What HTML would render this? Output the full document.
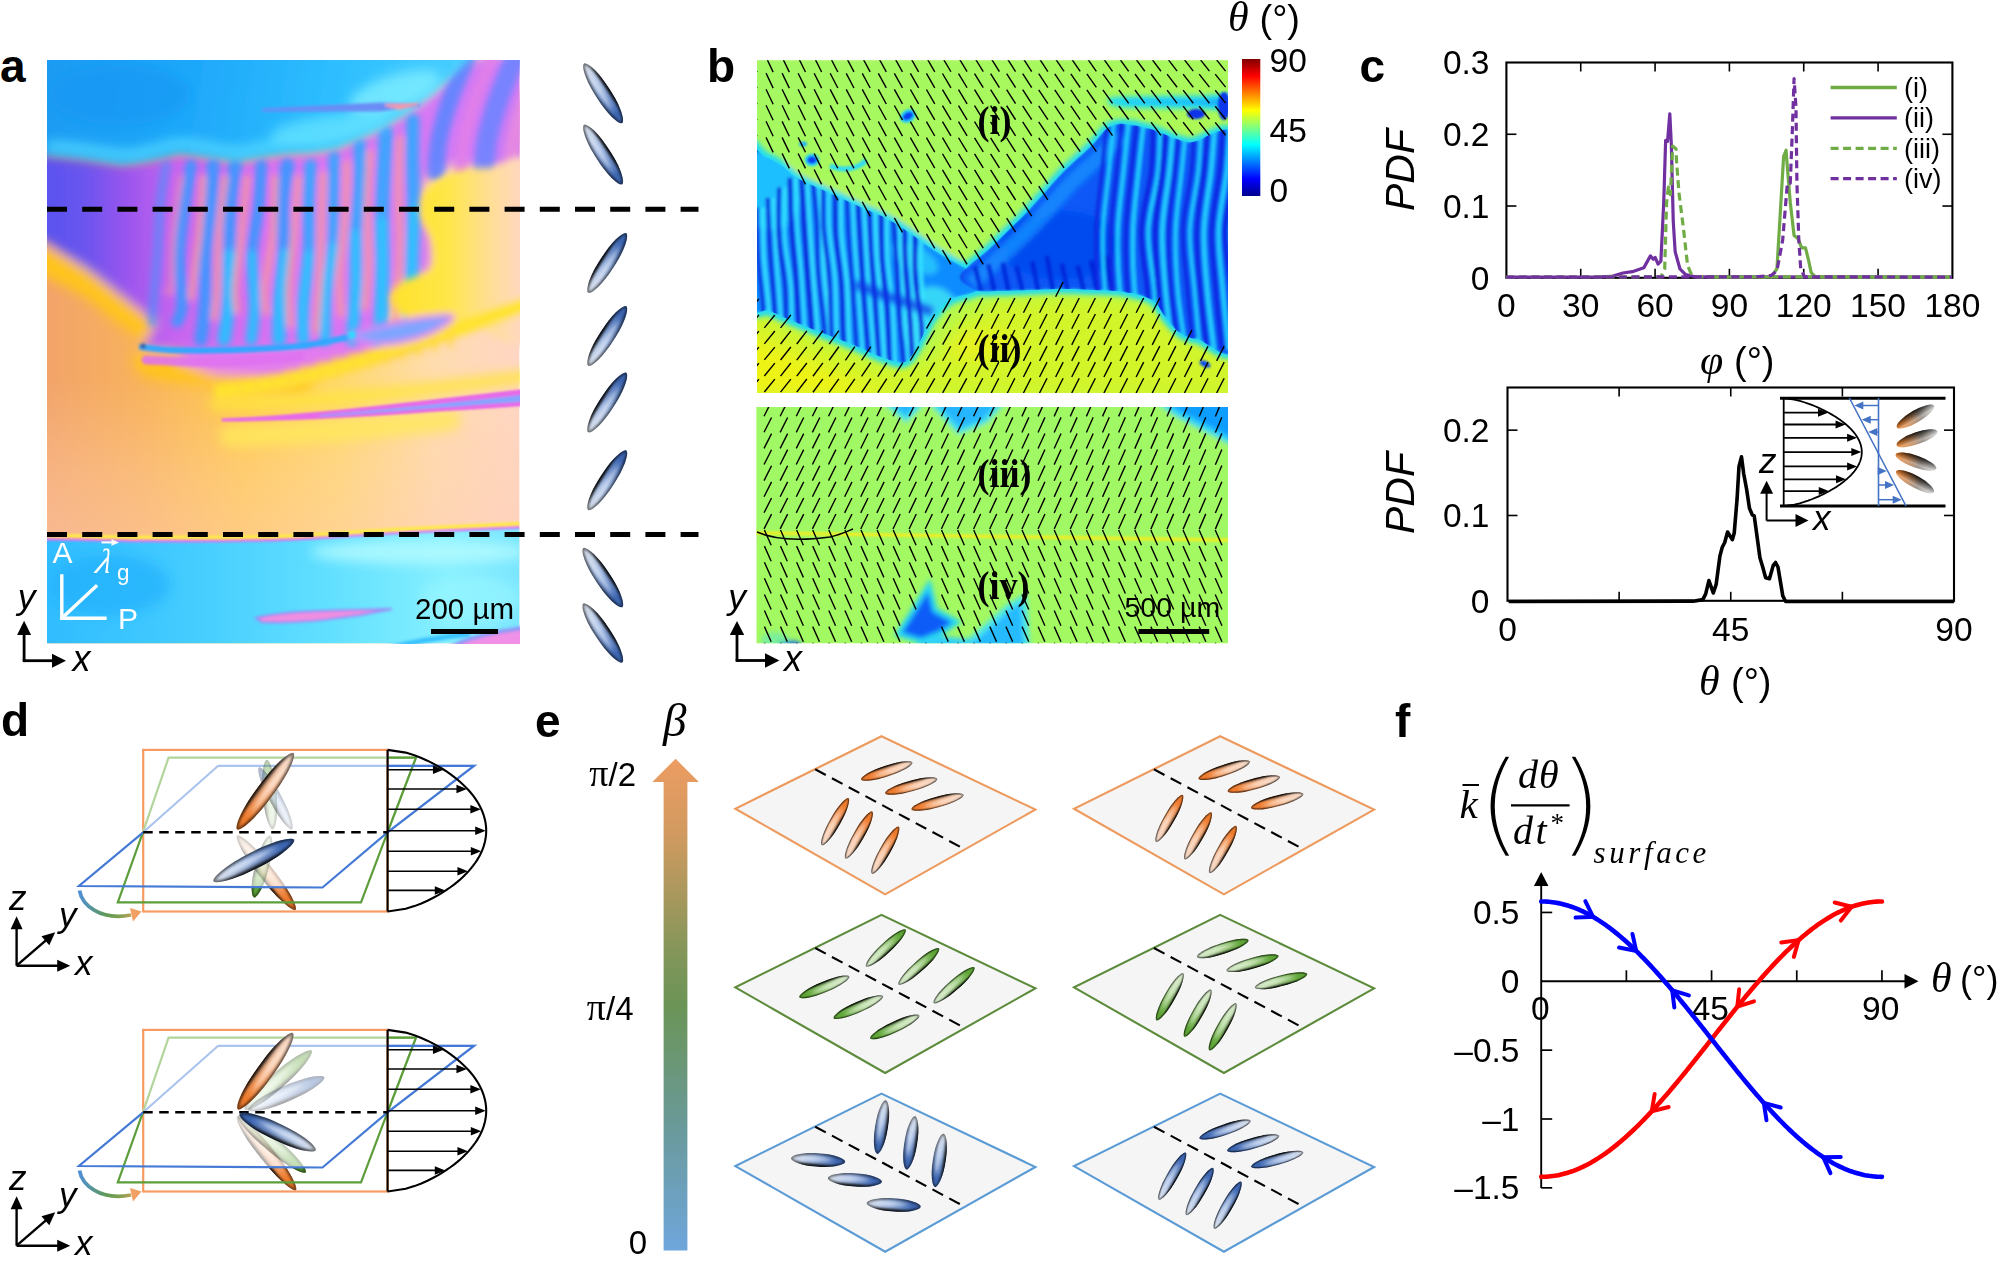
<!DOCTYPE html>
<html lang="en"><head><meta charset="utf-8"><title>Figure</title>
<style>
html,body{margin:0;padding:0;background:#fff;}
body{width:2000px;height:1261px;overflow:hidden;font-family:"Liberation Sans",sans-serif;}
svg{display:block;}
</style></head>
<body>
<svg width="2000" height="1261" viewBox="0 0 2000 1261">
<defs>
<clipPath id="ellclip"><path d="M-50,0 C-49,-4.6 -30,-10 0,-10 C30,-10 49,-4.6 50,0 C49,4.6 30,10 0,10 C-30,10 -49,4.6 -50,0 Z"/></clipPath>
<filter id="elb1" x="-20%" y="-100%" width="140%" height="300%"><feGaussianBlur stdDeviation="4 2.2"/></filter>
<filter id="elb3" x="-20%" y="-50%" width="140%" height="200%"><feGaussianBlur stdDeviation="2.2 1.3"/></filter>
<filter id="elb2" x="-20%" y="-100%" width="140%" height="300%"><feGaussianBlur stdDeviation="5 2"/></filter>
<linearGradient id="el_blue" gradientUnits="userSpaceOnUse" x1="-50" y1="0" x2="50" y2="0"><stop offset="0" stop-color="#dde3ec"/><stop offset="0.42" stop-color="#a0b9e3"/><stop offset="0.85" stop-color="#3d66b1"/><stop offset="1" stop-color="#3d66b1"/></linearGradient>
<g id="ell_blue"><path d="M-50,0 C-49,-4.6 -30,-10 0,-10 C30,-10 49,-4.6 50,0 C49,4.6 30,10 0,10 C-30,10 -49,4.6 -50,0 Z" fill="url(#el_blue)"/><g clip-path="url(#ellclip)"><ellipse cx="-10" cy="-10.8" rx="50" ry="4.4" fill="#000" opacity="0.88" filter="url(#elb1)"/><path d="M-50,0 C-49,-4.6 -30,-10 0,-10 C30,-10 49,-4.6 50,0 C49,4.6 30,10 0,10 C-30,10 -49,4.6 -50,0 Z" fill="none" stroke="#000" stroke-width="4.5" opacity="0.62" filter="url(#elb3)"/><ellipse cx="-6" cy="1.6" rx="30" ry="2.4" fill="#fff" opacity="0.5" filter="url(#elb2)"/></g></g>
<linearGradient id="el_orange" gradientUnits="userSpaceOnUse" x1="-50" y1="0" x2="50" y2="0"><stop offset="0" stop-color="#f3dccd"/><stop offset="0.42" stop-color="#f9bf98"/><stop offset="0.85" stop-color="#ee7b2d"/><stop offset="1" stop-color="#ee7b2d"/></linearGradient>
<g id="ell_orange"><path d="M-50,0 C-49,-4.6 -30,-10 0,-10 C30,-10 49,-4.6 50,0 C49,4.6 30,10 0,10 C-30,10 -49,4.6 -50,0 Z" fill="url(#el_orange)"/><g clip-path="url(#ellclip)"><ellipse cx="-10" cy="-10.8" rx="50" ry="4.4" fill="#000" opacity="0.88" filter="url(#elb1)"/><path d="M-50,0 C-49,-4.6 -30,-10 0,-10 C30,-10 49,-4.6 50,0 C49,4.6 30,10 0,10 C-30,10 -49,4.6 -50,0 Z" fill="none" stroke="#000" stroke-width="4.5" opacity="0.62" filter="url(#elb3)"/><ellipse cx="-6" cy="1.6" rx="30" ry="2.4" fill="#fff" opacity="0.5" filter="url(#elb2)"/></g></g>
<linearGradient id="el_green" gradientUnits="userSpaceOnUse" x1="-50" y1="0" x2="50" y2="0"><stop offset="0" stop-color="#dcebd2"/><stop offset="0.42" stop-color="#b3d99a"/><stop offset="0.85" stop-color="#5fa637"/><stop offset="1" stop-color="#5fa637"/></linearGradient>
<g id="ell_green"><path d="M-50,0 C-49,-4.6 -30,-10 0,-10 C30,-10 49,-4.6 50,0 C49,4.6 30,10 0,10 C-30,10 -49,4.6 -50,0 Z" fill="url(#el_green)"/><g clip-path="url(#ellclip)"><ellipse cx="-10" cy="-10.8" rx="50" ry="4.4" fill="#000" opacity="0.88" filter="url(#elb1)"/><path d="M-50,0 C-49,-4.6 -30,-10 0,-10 C30,-10 49,-4.6 50,0 C49,4.6 30,10 0,10 C-30,10 -49,4.6 -50,0 Z" fill="none" stroke="#000" stroke-width="4.5" opacity="0.62" filter="url(#elb3)"/><ellipse cx="-6" cy="1.6" rx="30" ry="2.4" fill="#fff" opacity="0.5" filter="url(#elb2)"/></g></g>
<clipPath id="clipA"><rect x="47" y="60" width="472.3" height="583.2"/></clipPath><filter id="ab1" filterUnits="userSpaceOnUse" x="0" y="0" width="720" height="700"><feGaussianBlur stdDeviation="0.8"/></filter><filter id="ab2" filterUnits="userSpaceOnUse" x="0" y="0" width="720" height="700"><feGaussianBlur stdDeviation="1.8"/></filter><filter id="ab3" filterUnits="userSpaceOnUse" x="0" y="0" width="720" height="700"><feGaussianBlur stdDeviation="3.4"/></filter><filter id="ab4" filterUnits="userSpaceOnUse" x="0" y="0" width="720" height="700"><feGaussianBlur stdDeviation="3.5"/></filter><filter id="ab6" filterUnits="userSpaceOnUse" x="0" y="0" width="720" height="700"><feGaussianBlur stdDeviation="6"/></filter><linearGradient id="a_orange" gradientUnits="userSpaceOnUse" x1="47" y1="0" x2="519" y2="0"><stop offset="0" stop-color="#f2a46a"/><stop offset="0.2" stop-color="#f8b25c"/><stop offset="0.42" stop-color="#ffcb4e"/><stop offset="0.62" stop-color="#ffd96e"/><stop offset="0.82" stop-color="#ffdcae"/><stop offset="1" stop-color="#ffd6c4"/></linearGradient><linearGradient id="a_orange_v" gradientUnits="userSpaceOnUse" x1="0" y1="380" x2="0" y2="540"><stop offset="0" stop-color="#ffd0b0" stop-opacity="0"/><stop offset="0.6" stop-color="#ffd0b4" stop-opacity="0.35"/><stop offset="1" stop-color="#ffcdb8" stop-opacity="0.5"/></linearGradient><linearGradient id="a_purple" gradientUnits="userSpaceOnUse" x1="47" y1="0" x2="519" y2="0"><stop offset="0" stop-color="#5a52f0"/><stop offset="0.08" stop-color="#6a55ee"/><stop offset="0.17" stop-color="#9a55ee"/><stop offset="0.27" stop-color="#c765f0"/><stop offset="0.5" stop-color="#dc72f2"/><stop offset="0.8" stop-color="#d878f4"/><stop offset="1" stop-color="#c87af8"/></linearGradient><linearGradient id="a_blue" gradientUnits="userSpaceOnUse" x1="47" y1="60" x2="470" y2="130"><stop offset="0" stop-color="#1a9bf2"/><stop offset="0.35" stop-color="#1fa8fa"/><stop offset="0.7" stop-color="#2fc0ff"/><stop offset="1" stop-color="#4cd0ff"/></linearGradient><linearGradient id="a_yellow" gradientUnits="userSpaceOnUse" x1="400" y1="0" x2="519" y2="0"><stop offset="0" stop-color="#ffe230"/><stop offset="0.4" stop-color="#ffe648"/><stop offset="0.72" stop-color="#ffdf8e"/><stop offset="1" stop-color="#ffd8be"/></linearGradient><linearGradient id="a_cyan" gradientUnits="userSpaceOnUse" x1="47" y1="0" x2="519" y2="0"><stop offset="0" stop-color="#30bcff"/><stop offset="0.3" stop-color="#44ccff"/><stop offset="0.6" stop-color="#62e0ff"/><stop offset="0.85" stop-color="#86f0ff"/><stop offset="1" stop-color="#7ce6ff"/></linearGradient>
<clipPath id="clipB1"><rect x="757" y="60.3" width="471" height="332.6"/></clipPath><clipPath id="clipB2"><rect x="756.5" y="407" width="471.5" height="236.2"/></clipPath><clipPath id="clipBL"><path d="M745,153 C748.33,129.5 758.83,154.83 765,157 C771.17,159.17 776.67,162.5 782,166 C787.33,169.5 788.67,173.33 797,178 C805.33,182.67 820.67,188.83 832,194 C843.33,199.17 854.83,204.33 865,209 C875.17,213.67 881.5,215.17 893,222 C904.5,228.83 923.17,243 934,250 C944.83,257 951,260 958,264 C965,268 970.67,270.83 976,274 C981.33,277.17 990.17,280 990,283 C989.83,286 981.67,289.17 975,292 C968.33,294.83 957.17,295.67 950,300 C942.83,304.33 937.33,310.5 932,318 C926.67,325.5 922.5,337.67 918,345 C913.5,352.33 910.67,359.83 905,362 C899.33,364.17 893,361 884,358 C875,355 861.67,348.33 851,344 C840.33,339.67 829.33,335.67 820,332 C810.67,328.33 803.33,325.5 795,322 C786.67,318.5 778.33,315 770,311 C761.67,307 749.17,324.33 745,298 C740.83,271.67 741.67,176.5 745,153 Z"/></clipPath><clipPath id="clipBR"><path d="M962,274 C964.5,267 980,257.5 990,248 C1000,238.5 1012.83,226.33 1022,217 C1031.17,207.67 1038.17,199.5 1045,192 C1051.83,184.5 1055.5,179.5 1063,172 C1070.5,164.5 1081.67,154.83 1090,147 C1098.33,139.17 1103.5,128.17 1113,125 C1122.5,121.83 1134.5,125.17 1147,128 C1159.5,130.83 1172.5,139.33 1188,142 C1203.5,144.67 1231.33,111 1240,144 C1248.67,177 1247.17,307.5 1240,340 C1232.83,372.5 1207,340.17 1197,339 C1187,337.83 1185.17,336.5 1180,333 C1174.83,329.5 1170.67,323.5 1166,318 C1161.33,312.5 1159,304.33 1152,300 C1145,295.67 1134.33,293.67 1124,292 C1113.67,290.33 1100.17,290.5 1090,290 C1079.83,289.5 1073,289 1063,289 C1053,289 1040.5,289.67 1030,290 C1019.5,290.33 1009.17,291 1000,291 C990.83,291 981.33,292.83 975,290 C968.67,287.17 959.5,281 962,274 Z"/></clipPath><filter id="bb1" filterUnits="userSpaceOnUse" x="730" y="40" width="520" height="620"><feGaussianBlur stdDeviation="0.9"/></filter><filter id="bb2" filterUnits="userSpaceOnUse" x="730" y="40" width="520" height="620"><feGaussianBlur stdDeviation="1.5"/></filter><filter id="bb3" filterUnits="userSpaceOnUse" x="730" y="40" width="520" height="620"><feGaussianBlur stdDeviation="2.6"/></filter><filter id="bb8" filterUnits="userSpaceOnUse" x="730" y="40" width="520" height="620"><feGaussianBlur stdDeviation="9"/></filter><linearGradient id="b_green" gradientUnits="userSpaceOnUse" x1="757" y1="60" x2="900" y2="393"><stop offset="0" stop-color="#a4f862"/><stop offset="0.5" stop-color="#a8f95c"/><stop offset="1" stop-color="#b8f94a"/></linearGradient><linearGradient id="jet" x1="0" y1="1" x2="0" y2="0"><stop offset="0" stop-color="#00008f"/><stop offset="0.125" stop-color="#0000ff"/><stop offset="0.375" stop-color="#00ffff"/><stop offset="0.625" stop-color="#ffff00"/><stop offset="0.875" stop-color="#ff0000"/><stop offset="1" stop-color="#800000"/></linearGradient>
<linearGradient id="el_inset" x1="0" y1="0" x2="1" y2="0"><stop offset="0" stop-color="#ee7d22"/><stop offset="0.3" stop-color="#c98148"/><stop offset="0.6" stop-color="#8a8178"/><stop offset="1" stop-color="#d8d8d8"/></linearGradient><linearGradient id="el_insh" x1="0" y1="0" x2="0" y2="1"><stop offset="0" stop-color="#000" stop-opacity="0.85"/><stop offset="0.4" stop-color="#000" stop-opacity="0.25"/><stop offset="0.7" stop-color="#fff" stop-opacity="0.3"/><stop offset="1" stop-color="#fff" stop-opacity="0.1"/></linearGradient>
<clipPath id="dclip1"><rect x="200" y="887.2" width="150" height="40"/></clipPath><linearGradient id="curv1" gradientUnits="userSpaceOnUse" x1="79" y1="0" x2="140" y2="0"><stop offset="0" stop-color="#4f8fd6"/><stop offset="0.45" stop-color="#5f9a55"/><stop offset="0.7" stop-color="#86a050"/><stop offset="1" stop-color="#f1a063"/></linearGradient><clipPath id="dclip2"><rect x="200" y="1167.2" width="150" height="40"/></clipPath><linearGradient id="curv2" gradientUnits="userSpaceOnUse" x1="79" y1="0" x2="140" y2="0"><stop offset="0" stop-color="#4f8fd6"/><stop offset="0.45" stop-color="#5f9a55"/><stop offset="0.7" stop-color="#86a050"/><stop offset="1" stop-color="#f1a063"/></linearGradient>
<linearGradient id="beta_grad" x1="0" y1="1" x2="0" y2="0"><stop offset="0" stop-color="#6fa6dc"/><stop offset="0.25" stop-color="#6a9a9a"/><stop offset="0.5" stop-color="#6b9456"/><stop offset="0.62" stop-color="#87965a"/><stop offset="0.85" stop-color="#d29a60"/><stop offset="1" stop-color="#ec9c62"/></linearGradient>
</defs>
<rect width="2000" height="1261" fill="#fff"/>
<!-- panel_a -->
<g id="panel_a">
<text x="0" y="82" font-family='"Liberation Sans", sans-serif' font-size="46" text-anchor="start" font-weight="bold" font-style="normal" fill="#000" >a</text>
<g clip-path="url(#clipA)">
<rect x="40" y="50" width="490" height="600" fill="url(#a_orange)"/>
<rect x="40" y="380" width="490" height="170" fill="url(#a_orange_v)"/>
<g filter="url(#ab6)">
<path d="M30,254 C40.17,259.33 75.5,276.5 91,286 C106.5,295.5 111.5,302.17 123,311 C134.5,319.83 155.5,330.17 160,339 C164.5,347.83 138.33,358.33 150,364 C161.67,369.67 205,370.33 230,373 C255,375.67 288.33,378.83 300,380" fill="none" stroke="#ffc41e" stroke-width="26" stroke-linecap="round"/>
<path d="M30,150 L47,155 L80,158 L123,164 L150,160 L180,153 L210,157 L237,161 L265,156 L287,153 L310,152 L336,148 L374,131 L403,115 L430,95 L450,79 L469,60 L530,50 L530,168 L450,165 L422,182 L420,215 L431,240 L431,270 L403,279 L389,300 L380,337 L349,342 L300,347 L250,354 L200,352 L142,349 L156,323 L124,298 L91,272 L47,243 L30,234 Z" fill="url(#a_purple)" stroke="none" stroke-width="0" />
<path d="M190,348 L300,345 L385,336 L440,322 L452,330 L400,350 L330,366 L279,378 L215,374 L175,360 Z" fill="#e27cf0" stroke="none" stroke-width="0" />
</g>
<g filter="url(#ab3)">
<path d="M166,165 C165.03,171.67 161.6,190 160.15,205 C158.7,220 158.46,238.33 157.31,255 C156.15,271.67 154.04,293.83 153.22,305 C152.4,316.17 152.55,319.17 152.42,322" fill="none" stroke="#3b97ff" stroke-width="9.815741368486243" stroke-linecap="round" opacity="0.55"/>
<path d="M191.09,165 C190.06,171.67 186.87,190 184.92,205 C182.96,220 179.85,238.33 179.36,255 C178.88,271.67 182.41,293.83 182.02,305 C181.64,316.17 177.87,319.17 177.04,322" fill="none" stroke="#3b97ff" stroke-width="11.054489324710133" stroke-linecap="round" opacity="0.95"/>
<path d="M213.18,165 C212.83,171.67 212.4,190 211.09,205 C209.78,220 206.35,238.33 205.34,255 C204.33,271.67 205.76,290.83 205.02,305 C204.28,319.17 201.59,334.17 200.91,340" fill="none" stroke="#3b97ff" stroke-width="12.875806632448729" stroke-linecap="round" opacity="0.95"/>
<path d="M235.27,165 C234.42,171.67 231.17,190 230.17,205 C229.16,220 229.59,238.33 229.26,255 C228.94,271.67 229.07,290.83 228.21,305 C227.35,319.17 224.78,334.17 224.09,340" fill="none" stroke="#3b97ff" stroke-width="13.335633352906706" stroke-linecap="round" opacity="0.95"/>
<path d="M229.26,255 C229.09,263.33 229.07,290.83 228.21,305 C227.35,319.17 224.78,334.17 224.09,340" fill="none" stroke="#2cc6ff" stroke-width="12.335633352906706" stroke-linecap="round" opacity="0.8"/>
<path d="M261.36,165 C260.92,171.67 260.26,190 258.7,205 C257.15,220 252.73,238.33 252.04,255 C251.35,271.67 254.66,290.83 254.55,305 C254.44,319.17 251.9,334.17 251.36,340" fill="none" stroke="#3b97ff" stroke-width="11.355704467820706" stroke-linecap="round" opacity="0.95"/>
<path d="M252.04,255 C252.46,263.33 254.66,290.83 254.55,305 C254.44,319.17 251.9,334.17 251.36,340" fill="none" stroke="#2cc6ff" stroke-width="10.355704467820706" stroke-linecap="round" opacity="0.8"/>
<path d="M287.45,165 C286.64,171.67 283.1,190 282.6,205 C282.09,220 284.88,238.33 284.42,255 C283.96,271.67 280.76,290.83 279.84,305 C278.91,319.17 279.04,334.17 278.88,340" fill="none" stroke="#3b97ff" stroke-width="13.954657601149668" stroke-linecap="round" opacity="0.95"/>
<path d="M284.42,255 C283.66,263.33 280.76,290.83 279.84,305 C278.91,319.17 279.04,334.17 278.88,340" fill="none" stroke="#2cc6ff" stroke-width="12.954657601149668" stroke-linecap="round" opacity="0.8"/>
<path d="M310.55,165 C310.25,171.67 309.11,190 308.78,205 C308.46,220 309.49,238.33 308.58,255 C307.68,271.67 304.27,290.83 303.37,305 C302.47,319.17 303.23,334.17 303.2,340" fill="none" stroke="#37a6ff" stroke-width="12.000794752228423" stroke-linecap="round" opacity="0.95"/>
<path d="M308.58,255 C307.72,263.33 304.27,290.83 303.37,305 C302.47,319.17 303.23,334.17 303.2,340" fill="none" stroke="#2cc6ff" stroke-width="11.000794752228423" stroke-linecap="round" opacity="0.8"/>
<path d="M334.14,156.68 C334.05,163.34 333.89,181.68 333.62,196.68 C333.36,211.68 333.82,230.01 332.56,246.68 C331.3,263.34 327.34,281.12 326.08,296.68 C324.83,312.23 325.22,332.78 325.04,340" fill="none" stroke="#37a6ff" stroke-width="10.976441235549117" stroke-linecap="round" opacity="0.95"/>
<path d="M332.56,246.68 C331.48,255.01 327.34,281.12 326.08,296.68 C324.83,312.23 325.22,332.78 325.04,340" fill="none" stroke="#2cc6ff" stroke-width="9.976441235549117" stroke-linecap="round" opacity="0.8"/>
<path d="M359.73,144.75 C359.72,151.42 360.36,169.75 359.7,184.75 C359.03,199.75 356.39,218.08 355.73,234.75 C355.08,251.42 356.35,267.21 355.76,284.75 C355.17,302.29 352.8,330.79 352.2,340" fill="none" stroke="#37a6ff" stroke-width="12.282593427230768" stroke-linecap="round" opacity="0.95"/>
<path d="M355.73,234.75 C355.74,243.08 356.35,267.21 355.76,284.75 C355.17,302.29 352.8,330.79 352.2,340" fill="none" stroke="#2cc6ff" stroke-width="11.282593427230768" stroke-linecap="round" opacity="0.8"/>
<path d="M385.82,132.6 C385.49,139.27 384.49,157.6 383.83,172.6 C383.18,187.6 382.13,205.93 381.91,222.6 C381.69,239.27 382.77,253.03 382.51,272.6 C382.25,292.17 380.7,328.77 380.34,340" fill="none" stroke="#37a6ff" stroke-width="14.068907968814987" stroke-linecap="round" opacity="0.95"/>
<path d="M381.91,222.6 C382.01,230.93 382.77,253.03 382.51,272.6 C382.25,292.17 380.7,328.77 380.34,340" fill="none" stroke="#2cc6ff" stroke-width="13.068907968814987" stroke-linecap="round" opacity="0.8"/>
<path d="M412.91,120 C412.84,126.67 412.34,145 412.47,160 C412.61,175 413.79,193.33 413.73,210 C413.67,226.67 412.77,238.33 412.14,260 C411.51,281.67 410.33,326.67 409.96,340" fill="none" stroke="#37a6ff" stroke-width="13.020730939731333" stroke-linecap="round" opacity="0.95"/>
<path d="M413.73,210 C413.46,218.33 412.77,238.33 412.14,260 C411.51,281.67 410.33,326.67 409.96,340" fill="none" stroke="#2cc6ff" stroke-width="12.020730939731333" stroke-linecap="round" opacity="0.8"/>
<path d="M181,178 C179.78,187.17 175.29,214.67 173.65,233 C172.01,251.33 172.11,278.35 171.16,288 C170.22,297.65 168.53,290.4 168,290.88" fill="none" stroke="#f59b9e" stroke-width="6.5" stroke-linecap="round" opacity="0.5"/>
<path d="M203,178 C202.35,187.17 200.88,214.67 199.12,233 C197.35,251.33 193.77,277.31 192.41,288 C191.06,298.69 191.24,295.63 191,297.15" fill="none" stroke="#f59b9e" stroke-width="6.5" stroke-linecap="round" opacity="0.85"/>
<path d="M225,178 C223.97,187.17 220.18,214.67 218.84,233 C217.51,251.33 217.8,273.89 216.99,288 C216.18,302.11 214.5,312.72 214,317.66" fill="none" stroke="#f59b9e" stroke-width="6.5" stroke-linecap="round" opacity="0.85"/>
<path d="M247,178 C246.11,187.17 243.58,214.67 241.64,233 C239.7,251.33 236.15,275.06 235.38,288 C234.61,300.94 236.73,306.88 237,310.65" fill="none" stroke="#f59b9e" stroke-width="6.5" stroke-linecap="round" opacity="0.85"/>
<path d="M275,178 C274.66,187.17 274.7,214.67 272.96,233 C271.21,251.33 265.69,274.84 264.53,288 C263.37,301.16 265.76,307.99 266,311.99" fill="none" stroke="#f59b9e" stroke-width="6.5" stroke-linecap="round" opacity="0.85"/>
<path d="M298,178 C297.36,187.17 295.66,214.67 294.14,233 C292.63,251.33 289.59,272.72 288.9,288 C288.21,303.28 289.82,318.54 290,324.65" fill="none" stroke="#f59b9e" stroke-width="6.5" stroke-linecap="round" opacity="0.85"/>
<path d="M323,174.85 C322.68,184.02 321.7,211.52 321.08,229.85 C320.45,248.18 320.08,268.01 319.24,284.85 C318.39,301.69 316.54,323.22 316,330.9" fill="none" stroke="#f59b9e" stroke-width="6.5" stroke-linecap="round" opacity="0.85"/>
<path d="M347,163.6 C346.66,172.77 346.25,200.27 344.96,218.6 C343.67,236.93 339.93,257.69 339.27,273.6 C338.61,289.51 340.71,307.3 341,314.04" fill="none" stroke="#f59b9e" stroke-width="6.5" stroke-linecap="round" opacity="0.85"/>
<path d="M370,152.8 C369.55,161.97 367.61,189.47 367.32,207.8 C367.04,226.13 368.67,246.19 368.29,262.8 C367.9,279.41 365.55,300.04 365,307.48" fill="none" stroke="#f59b9e" stroke-width="6.5" stroke-linecap="round" opacity="0.85"/>
<path d="M400,138.85 C399.75,148.02 398.52,175.52 398.52,193.85 C398.52,212.18 400.41,227.12 399.99,248.85 C399.57,270.58 396.67,311.69 396,324.26" fill="none" stroke="#f59b9e" stroke-width="6.5" stroke-linecap="round" opacity="0.85"/>
<path d="M468,55 C465,62.5 454.83,85.83 450,100 C445.17,114.17 441.33,128 439,140 C436.67,152 436.5,166.67 436,172" fill="none" stroke="#5d86ff" stroke-width="17" stroke-linecap="round" opacity="0.9"/>
<path d="M493,55 C490,62.5 479.83,85.83 475,100 C470.17,114.17 466.33,128 464,140 C461.67,152 461.5,166.67 461,172" fill="none" stroke="#e27fe8" stroke-width="12" stroke-linecap="round" opacity="0.9"/>
<path d="M516,55 C513,62.5 502.83,85.83 498,100 C493.17,114.17 489.33,128 487,140 C484.67,152 484.5,166.67 484,172" fill="none" stroke="#6f84ff" stroke-width="20" stroke-linecap="round" opacity="0.9"/>
<path d="M543,55 C540,62.5 529.83,85.83 525,100 C520.17,114.17 516.33,128 514,140 C511.67,152 511.5,166.67 511,172" fill="none" stroke="#e88ae0" stroke-width="16" stroke-linecap="round" opacity="0.9"/>
</g>
<g filter="url(#ab4)">
<path d="M30,40 L480,40 L476,50 L469,60 L450,79 L430,95 L403,115 L374,131 L336,148 L310,152 L287,153 L265,156 L237,161 L210,157 L180,153 L150,160 L123,164 L80,158 L47,155 L40,155 Z" fill="url(#a_blue)"/>
</g>
<g filter="url(#ab6)">
<path d="M47,146 C52.5,146.5 67.33,147.5 80,149 C92.67,150.5 111.33,154.67 123,155 C134.67,155.33 140.5,152.83 150,151 C159.5,149.17 170,144.5 180,144 C190,143.5 200.5,146.67 210,148 C219.5,149.33 227.83,152.17 237,152 C246.17,151.83 256.67,148.33 265,147 C273.33,145.67 279.5,144.67 287,144 C294.5,143.33 301.83,143.83 310,143 C318.17,142.17 325.33,142.5 336,139 C346.67,135.5 362.83,127.5 374,122 C385.17,116.5 393.67,112 403,106 C412.33,100 425.5,89.33 430,86" fill="none" stroke="#55dcff" stroke-width="11" opacity="0.85"/>
<ellipse cx="395" cy="92" rx="48" ry="17" fill="#7eeeff" opacity="0.8" transform="rotate(-18 395 92)"/>
<ellipse cx="330" cy="128" rx="60" ry="13" fill="#63e2ff" opacity="0.8" transform="rotate(-8 330 128)"/>
<ellipse cx="120" cy="95" rx="70" ry="30" fill="#1795f2" opacity="0.55"/>
</g>
<g filter="url(#ab2)">
<path d="M262,110 L380,104 L420,105 L380,110 Z" fill="#6a8cf5" stroke="#6a8cf5" stroke-width="3"/>
<path d="M385,105 L418,104 L400,109 Z" fill="#f09ab0" stroke="#f09ab0" stroke-width="2"/>
</g>
<g filter="url(#ab4)">
<path d="M455,172 C465.67,168.33 477.5,168.33 490,168 C502.5,167.67 523.33,141.67 530,170 C536.67,198.33 540,312.33 530,338 C520,363.67 486.33,324.33 470,324 C453.67,323.67 445,339.5 432,336 C419,332.5 396.83,312 392,303 C387.17,294 396.5,287.5 403,282 C409.5,276.5 426.17,277 431,270 C435.83,263 433.67,249.17 432,240 C430.33,230.83 422,223.33 421,215 C420,206.67 420.33,197.17 426,190 C431.67,182.83 444.33,175.67 455,172 Z" fill="url(#a_yellow)"/>
<path d="M215,392 C225.67,390.33 259.83,385.67 279,382 C298.17,378.33 314.17,374.17 330,370 C345.83,365.83 359,361.67 374,357 C389,352.33 404.17,347.33 420,342 C435.83,336.67 450.67,331.5 469,325 C487.33,318.5 519.83,306.67 530,303" fill="none" stroke="#ffe32e" stroke-width="15"/>
<path d="M240,385.25 L243,401.25" stroke="#ffd838" stroke-width="5" stroke-linecap="round" opacity="0.8"/>
<path d="M256,380.93 L259,396.93" stroke="#ffd838" stroke-width="5" stroke-linecap="round" opacity="0.8"/>
<path d="M272,376.61 L275,392.61" stroke="#ffd838" stroke-width="5" stroke-linecap="round" opacity="0.8"/>
<path d="M288,372.29 L291,388.29" stroke="#ffd838" stroke-width="5" stroke-linecap="round" opacity="0.8"/>
<path d="M304,367.97 L307,383.97" stroke="#ffd838" stroke-width="5" stroke-linecap="round" opacity="0.8"/>
<path d="M320,363.65 L323,379.65" stroke="#ffd838" stroke-width="5" stroke-linecap="round" opacity="0.8"/>
<path d="M336,359.33 L339,375.33" stroke="#ffd838" stroke-width="5" stroke-linecap="round" opacity="0.8"/>
<path d="M352,355.01 L355,371.01" stroke="#ffd838" stroke-width="5" stroke-linecap="round" opacity="0.8"/>
<path d="M368,350.69 L371,366.69" stroke="#ffd838" stroke-width="5" stroke-linecap="round" opacity="0.8"/>
<path d="M384,346.37 L387,362.37" stroke="#ffd838" stroke-width="5" stroke-linecap="round" opacity="0.8"/>
<path d="M400,342.05 L403,358.05" stroke="#ffd838" stroke-width="5" stroke-linecap="round" opacity="0.8"/>
<path d="M416,337.73 L419,353.73" stroke="#ffd838" stroke-width="5" stroke-linecap="round" opacity="0.8"/>
<path d="M432,333.41 L435,349.41" stroke="#ffd838" stroke-width="5" stroke-linecap="round" opacity="0.8"/>
<path d="M448,329.09 L451,345.09" stroke="#ffd838" stroke-width="5" stroke-linecap="round" opacity="0.8"/>
<path d="M349,336 C349.33,333 368.17,329 380,326 C391.83,323 408,319.67 420,318 C432,316.33 448.67,314.33 452,316 C455.33,317.67 447,324 440,328 C433,332 420.33,337.33 410,340 C399.67,342.67 388.17,344.67 378,344 C367.83,343.33 348.67,339 349,336 Z" fill="#7ba6ff" stroke="#e57cf2" stroke-width="4"/>
</g>
<g filter="url(#ab2)">
<path d="M146,360 C155,360.33 181,362 200,362 C219,362 243.33,361 260,360 C276.67,359 293.33,356.67 300,356" fill="none" stroke="#df72f0" stroke-width="9" stroke-linecap="round" opacity="0.9"/>
<path d="M142,347 C146.67,347.5 155.33,349.5 170,350 C184.67,350.5 208.33,350.67 230,350 C251.67,349.33 280.83,348 300,346 C319.17,344 337.5,339.33 345,338" fill="none" stroke="#2fa8ff" stroke-width="6" stroke-linecap="round"/>
<circle cx="143" cy="346" r="2.5" fill="#3050a0"/>
<circle cx="352" cy="335" r="4" fill="#30d8ff"/>
<path d="M222,419 C300,416 400,404 530,389 L530,405 C420,412 320,421 222,421 Z" fill="#e66be8"/>
<path d="M330,414 C400,408 460,402 530,394 L530,401 C460,406 400,411 330,416 Z" fill="#86a4ff"/>
</g>
<g filter="url(#ab6)">
<path d="M215,404 C300,404 400,394 530,376" fill="none" stroke="#ffe53a" stroke-width="12" opacity="0.9" stroke-linecap="round"/>
<path d="M230,436 C300,434 380,428 450,420" fill="none" stroke="#ffe95a" stroke-width="22" opacity="0.8" stroke-linecap="round"/>
</g>
<g filter="url(#ab1)">
<path d="M222,419 C300,416 400,404 530,389 L530,405 C420,412 320,421 222,421 Z" fill="#e66be8"/>
<path d="M320,415 C400,408 460,402 530,394 L530,401 C460,406 400,411 320,416.5 Z" fill="#86a4ff"/>
</g>
<path d="M40,535.5 C58.33,535.83 110,537.33 150,537.5 C190,537.67 238.33,537.83 280,536.5 C321.67,535.17 358.33,531.67 400,529.5 C441.67,527.33 508.33,524.5 530,523.5" fill="none" stroke="#ffe948" stroke-width="4" filter="url(#ab1)"/>
<path d="M40,539 C58.33,539.33 110,540.83 150,541 C190,541.17 238.33,541.33 280,540 C321.67,538.67 358.33,535.17 400,533 C441.67,530.83 508.33,528 530,527 L530,650 L40,650 Z" fill="url(#a_cyan)"/>
<path d="M40,539 C58.33,539.33 110,540.83 150,541 C190,541.17 238.33,541.33 280,540 C321.67,538.67 358.33,535.17 400,533 C441.67,530.83 508.33,528 530,527" fill="none" stroke="#d77af0" stroke-width="2.6" filter="url(#ab1)"/>
<g filter="url(#ab6)">
<ellipse cx="420" cy="552" rx="110" ry="12" fill="#b4fbff" opacity="0.8"/>
<ellipse cx="110" cy="585" rx="60" ry="30" fill="#22aefc" opacity="0.6"/>
<ellipse cx="470" cy="600" rx="50" ry="25" fill="#9af6ff" opacity="0.6"/>
</g>
<g filter="url(#ab2)">
<path d="M256,618 C290,610 340,611 392,609 C350,618 300,624 262,622 Z" fill="#f08ee0" stroke="#9b8af5" stroke-width="2"/>
<path d="M445,650 C470,636 495,632 530,627 L530,650 Z" fill="#f090e6" stroke="#8e96f6" stroke-width="4"/>
<path d="M380,650 C420,640 450,636 470,634" fill="none" stroke="#35bfff" stroke-width="5"/>
</g>
</g>
<text x="52.5" y="562.7" font-family='"Liberation Sans", sans-serif' font-size="30" text-anchor="start" font-weight="normal" font-style="normal" fill="#fff" >A</text>
<text x="118" y="629" font-family='"Liberation Sans", sans-serif' font-size="30" text-anchor="start" font-weight="normal" font-style="normal" fill="#fff" >P</text>
<text transform="translate(94.5,572.9) skewX(-14)" font-family='"Liberation Serif", serif' font-size="35" font-style="italic" fill="#fff">λ</text>
<text x="117" y="579.5" font-family='"Liberation Sans", sans-serif' font-size="22.5" text-anchor="start" font-weight="normal" font-style="normal" fill="#fff" >g</text>
<line x1="101.5" y1="542.4" x2="113" y2="542.4" stroke="#fff" stroke-width="2" />
<path d="M119,542.4 L111.5,545.65 L111.5,539.15 Z" fill="#fff" stroke="none" stroke-width="0" />
<path d="M61.8,574.2 L61.8,618.2 L106.6,618.2" fill="none" stroke="#fff" stroke-width="3.4" />
<line x1="61.8" y1="618.2" x2="97.1" y2="585.2" stroke="#fff" stroke-width="3.4" />
<text x="415" y="618.5" font-family='"Liberation Sans", sans-serif' font-size="29.5" text-anchor="start" font-weight="normal" font-style="normal" fill="#000" >200 µm</text>
<line x1="431" y1="631.5" x2="498" y2="631.5" stroke="#000" stroke-width="4.8" />
<line x1="47" y1="209.2" x2="698.5" y2="209.2" stroke="#000" stroke-width="5" stroke-dasharray="20 15.2"/>
<line x1="47" y1="534.6" x2="698.5" y2="534.6" stroke="#000" stroke-width="5" stroke-dasharray="20 15.2"/>
<use href="#ell_blue" transform="translate(603.1,93.3) rotate(57.3) scale(0.71,0.775)" />
<use href="#ell_blue" transform="translate(603.1,154.5) rotate(57.3) scale(0.71,0.775)" />
<use href="#ell_blue" transform="translate(607.2,263) rotate(-57.3) scale(0.71,0.775)" />
<use href="#ell_blue" transform="translate(607.2,336) rotate(-57.3) scale(0.71,0.775)" />
<use href="#ell_blue" transform="translate(607.2,402.5) rotate(-57.3) scale(0.71,0.775)" />
<use href="#ell_blue" transform="translate(607.2,480.3) rotate(-57.3) scale(0.71,0.775)" />
<use href="#ell_blue" transform="translate(602.8,577.6) rotate(56.5) scale(0.71,0.775)" />
<use href="#ell_blue" transform="translate(602.8,633) rotate(56.5) scale(0.71,0.775)" />
<line x1="24.1" y1="660.7" x2="24.1" y2="632.22" stroke="#000" stroke-width="2.8" /><path d="M24.1,620.7 L31.1,635.1 L17.1,635.1 Z" fill="#000" stroke="none" stroke-width="0" />
<line x1="24.1" y1="660.7" x2="54.8" y2="660.7" stroke="#000" stroke-width="2.8" /><path d="M66,660.7 L52,667.7 L52,653.7 Z" fill="#000" stroke="none" stroke-width="0" />
<line x1="22.7" y1="660.7" x2="25.5" y2="660.7" stroke="#000" stroke-width="2.8" />
<text x="17.8" y="608.7" font-family='"Liberation Sans", sans-serif' font-size="35.5" text-anchor="start" font-weight="normal" font-style="italic" fill="#000" >y</text>
<text x="72.6" y="670.6" font-family='"Liberation Sans", sans-serif' font-size="36" text-anchor="start" font-weight="normal" font-style="italic" fill="#000" >x</text>
</g>
<!-- panel_b -->
<g id="panel_b">
<text x="707" y="81.5" font-family='"Liberation Sans", sans-serif' font-size="46" text-anchor="start" font-weight="bold" font-style="normal" fill="#000" >b</text>
<g clip-path="url(#clipB1)">
<rect x="750" y="55" width="485" height="345" fill="url(#b_green)"/>
<g filter="url(#bb8)">
<path d="M740,300 L800,330 L884,365 L930,360 L960,320 L1000,298 L1100,296 L1160,310 L1200,345 L1240,345 L1240,400 L740,400 Z" fill="#d2f52c" stroke="none" stroke-width="0" />
<path d="M740,330 L840,375 L900,400 L740,400 Z" fill="#eef312" stroke="none" stroke-width="0" />
<ellipse cx="985" cy="345" rx="40" ry="14" fill="#eef020" opacity="0.8"/>
</g>
<g filter="url(#bb3)">
<path d="M782,166 C784.5,168 788.67,173.33 797,178 C805.33,182.67 820.67,188.83 832,194 C843.33,199.17 854.83,204.33 865,209 C875.17,213.67 881.5,215.17 893,222 C904.5,228.83 923.17,243 934,250 C944.83,257 954,261.67 958,264" fill="none" stroke="#e4f326" stroke-width="14" opacity="0.8"/>
<path d="M962,274 C966.67,269.67 980,257.5 990,248 C1000,238.5 1012.83,226.33 1022,217 C1031.17,207.67 1038.17,199.5 1045,192 C1051.83,184.5 1055.5,179.5 1063,172 C1070.5,164.5 1081.67,154.83 1090,147 C1098.33,139.17 1109.17,128.67 1113,125" fill="none" stroke="#d4f53a" stroke-width="10" opacity="0.6"/>
<path d="M967,280 C971.67,275.67 985,263.5 995,254 C1005,244.5 1017.83,232.33 1027,223 C1036.17,213.67 1043.17,205.5 1050,198 C1056.83,190.5 1060.5,185.5 1068,178 C1075.5,170.5 1086.67,160.83 1095,153 C1103.33,145.17 1114.17,134.67 1118,131" fill="none" stroke="#22d8f6" stroke-width="22" opacity="0.75" filter="url(#bb3)"/>
<path d="M745,153 C748.33,129.5 758.83,154.83 765,157 C771.17,159.17 776.67,162.5 782,166 C787.33,169.5 788.67,173.33 797,178 C805.33,182.67 820.67,188.83 832,194 C843.33,199.17 854.83,204.33 865,209 C875.17,213.67 881.5,215.17 893,222 C904.5,228.83 923.17,243 934,250 C944.83,257 951,260 958,264 C965,268 970.67,270.83 976,274 C981.33,277.17 990.17,280 990,283 C989.83,286 981.67,289.17 975,292 C968.33,294.83 957.17,295.67 950,300 C942.83,304.33 937.33,310.5 932,318 C926.67,325.5 922.5,337.67 918,345 C913.5,352.33 910.67,359.83 905,362 C899.33,364.17 893,361 884,358 C875,355 861.67,348.33 851,344 C840.33,339.67 829.33,335.67 820,332 C810.67,328.33 803.33,325.5 795,322 C786.67,318.5 778.33,315 770,311 C761.67,307 749.17,324.33 745,298 C740.83,271.67 741.67,176.5 745,153 Z" fill="#1488fc" stroke="#20dcf2" stroke-width="10"/>
<path d="M962,274 C964.5,267 980,257.5 990,248 C1000,238.5 1012.83,226.33 1022,217 C1031.17,207.67 1038.17,199.5 1045,192 C1051.83,184.5 1055.5,179.5 1063,172 C1070.5,164.5 1081.67,154.83 1090,147 C1098.33,139.17 1103.5,128.17 1113,125 C1122.5,121.83 1134.5,125.17 1147,128 C1159.5,130.83 1172.5,139.33 1188,142 C1203.5,144.67 1231.33,111 1240,144 C1248.67,177 1247.17,307.5 1240,340 C1232.83,372.5 1207,340.17 1197,339 C1187,337.83 1185.17,336.5 1180,333 C1174.83,329.5 1170.67,323.5 1166,318 C1161.33,312.5 1159,304.33 1152,300 C1145,295.67 1134.33,293.67 1124,292 C1113.67,290.33 1100.17,290.5 1090,290 C1079.83,289.5 1073,289 1063,289 C1053,289 1040.5,289.67 1030,290 C1019.5,290.33 1009.17,291 1000,291 C990.83,291 981.33,292.83 975,290 C968.67,287.17 959.5,281 962,274 Z" fill="#0a5cf8" stroke="#20dcf2" stroke-width="9"/>
<path d="M1112,100 C1117,99 1135.33,98.83 1150,98.5 C1164.67,98.17 1185,98.42 1200,98 C1215,97.58 1233.33,94.33 1240,96 C1246.67,97.67 1246.67,106.25 1240,108 C1233.33,109.75 1215,106.92 1200,106.5 C1185,106.08 1163.33,105.83 1150,105.5 C1136.67,105.17 1126.33,105.42 1120,104.5 C1113.67,103.58 1107,101 1112,100 Z" fill="#1aa0ff" stroke="#20dcf2" stroke-width="5"/>
</g>
<g clip-path="url(#clipBL)"><g filter="url(#bb2)">
<path d="M745,153 C748.33,129.5 758.83,154.83 765,157 C771.17,159.17 776.67,162.5 782,166 C787.33,169.5 788.67,173.33 797,178 C805.33,182.67 820.67,188.83 832,194 C843.33,199.17 854.83,204.33 865,209 C875.17,213.67 881.5,215.17 893,222 C904.5,228.83 923.17,243 934,250 C944.83,257 951,260 958,264 C965,268 970.67,270.83 976,274 C981.33,277.17 990.17,280 990,283 C989.83,286 981.67,289.17 975,292 C968.33,294.83 957.17,295.67 950,300 C942.83,304.33 937.33,310.5 932,318 C926.67,325.5 922.5,337.67 918,345 C913.5,352.33 910.67,359.83 905,362 C899.33,364.17 893,361 884,358 C875,355 861.67,348.33 851,344 C840.33,339.67 829.33,335.67 820,332 C810.67,328.33 803.33,325.5 795,322 C786.67,318.5 778.33,315 770,311 C761.67,307 749.17,324.33 745,298 C740.83,271.67 741.67,176.5 745,153 Z" fill="#0f8cff"/>
<ellipse cx="770" cy="190" rx="34" ry="40" fill="#1fc2ff" opacity="0.95" filter="url(#bb3)"/>
<ellipse cx="932" cy="322" rx="30" ry="36" fill="#3ce2f6" opacity="0.85" filter="url(#bb3)"/>
<ellipse cx="915" cy="258" rx="26" ry="12" fill="#2fd6fb" opacity="0.7" filter="url(#bb3)" transform="rotate(30 915 258)"/>
<path d="M757,207.5 C757.19,215.83 757.12,240.83 758.12,257.5 C759.12,274.17 761.67,289.17 763,307.5 C764.33,325.83 764.79,349.17 766.12,367.5 C767.45,385.83 770.19,409.17 771,417.5" fill="none" stroke="#0a22da" stroke-width="3.6" opacity="0.95"/>
<path d="M762.8,207.5 C762.99,215.83 762.92,240.83 763.92,257.5 C764.92,274.17 767.47,289.17 768.8,307.5 C770.13,325.83 770.59,349.17 771.92,367.5 C773.25,385.83 775.99,409.17 776.8,417.5" fill="none" stroke="#34e0ff" stroke-width="4.2" opacity="0.92"/>
<path d="M767.64,197.92 C768.01,206.25 768.82,231.25 769.82,247.92 C770.82,264.59 772.31,279.59 773.64,297.92 C774.98,316.25 776.49,339.59 777.82,357.92 C779.16,376.25 781.01,399.59 781.64,407.92" fill="none" stroke="#0a22da" stroke-width="4.0" opacity="0.95"/>
<path d="M773.44,197.92 C773.81,206.25 774.62,231.25 775.62,247.92 C776.62,264.59 778.11,279.59 779.44,297.92 C780.78,316.25 782.29,339.59 783.62,357.92 C784.96,376.25 786.81,399.59 787.44,407.92" fill="none" stroke="#34e0ff" stroke-width="3.5" opacity="0.92"/>
<path d="M779.16,187.56 C779.11,195.89 777.85,220.89 778.85,237.56 C779.85,254.22 783.83,269.22 785.16,287.56 C786.49,305.89 785.51,329.22 786.85,347.56 C788.18,365.89 792.11,389.22 793.16,397.56" fill="none" stroke="#0a22da" stroke-width="4.1" opacity="0.95"/>
<path d="M784.96,187.56 C784.91,195.89 783.65,220.89 784.65,237.56 C785.65,254.22 789.63,269.22 790.96,287.56 C792.29,305.89 791.31,329.22 792.65,347.56 C793.98,365.89 797.91,389.22 798.96,397.56" fill="none" stroke="#34e0ff" stroke-width="3.5" opacity="0.92"/>
<path d="M789.84,177.94 C790.11,186.28 790.46,211.28 791.46,227.94 C792.46,244.61 794.51,259.61 795.84,277.94 C797.17,296.28 798.13,319.61 799.46,337.94 C800.8,356.28 803.11,379.61 803.84,387.94" fill="none" stroke="#0a22da" stroke-width="4.7" opacity="0.95"/>
<path d="M795.64,177.94 C795.91,186.28 796.26,211.28 797.26,227.94 C798.26,244.61 800.31,259.61 801.64,277.94 C802.97,296.28 803.93,319.61 805.26,337.94 C806.6,356.28 808.91,379.61 809.64,387.94" fill="none" stroke="#34e0ff" stroke-width="3.5" opacity="0.92"/>
<path d="M800.79,165.86 C801.23,174.19 802.42,199.19 803.42,215.86 C804.42,232.52 805.45,247.52 806.79,265.86 C808.12,284.19 810.09,307.52 811.42,325.86 C812.76,344.19 814.23,367.52 814.79,375.86" fill="none" stroke="#0a22da" stroke-width="4.9" opacity="0.95"/>
<path d="M806.59,165.86 C807.03,174.19 808.22,199.19 809.22,215.86 C810.22,232.52 811.25,247.52 812.59,265.86 C813.92,284.19 815.89,307.52 817.22,325.86 C818.56,344.19 820.03,367.52 820.59,375.86" fill="none" stroke="#34e0ff" stroke-width="4.1" opacity="0.92"/>
<path d="M812.08,171.84 C812.81,180.18 815.46,205.18 816.46,221.84 C817.46,238.51 816.75,253.51 818.08,271.84 C819.41,290.18 823.13,313.51 824.46,331.84 C825.8,350.18 825.81,373.51 826.08,381.84" fill="none" stroke="#0a22da" stroke-width="3.5" opacity="0.95"/>
<path d="M817.88,171.84 C818.61,180.18 821.26,205.18 822.26,221.84 C823.26,238.51 822.55,253.51 823.88,271.84 C825.21,290.18 828.93,313.51 830.26,331.84 C831.6,350.18 831.61,373.51 831.88,381.84" fill="none" stroke="#34e0ff" stroke-width="4.4" opacity="0.92"/>
<path d="M823.16,177.71 C823.2,186.05 822.38,211.05 823.38,227.71 C824.38,244.38 827.83,259.38 829.16,277.71 C830.49,296.05 830.05,319.38 831.38,337.71 C832.71,356.05 836.2,379.38 837.16,387.71" fill="none" stroke="#0a22da" stroke-width="3.6" opacity="0.95"/>
<path d="M828.96,177.71 C829,186.05 828.18,211.05 829.18,227.71 C830.18,244.38 833.63,259.38 834.96,277.71 C836.29,296.05 835.85,319.38 837.18,337.71 C838.51,356.05 842,379.38 842.96,387.71" fill="none" stroke="#34e0ff" stroke-width="3.8" opacity="0.92"/>
<path d="M835.29,184.15 C835.36,192.48 834.7,217.48 835.7,234.15 C836.7,250.81 839.96,265.81 841.29,284.15 C842.63,302.48 842.36,325.81 843.7,344.15 C845.03,362.48 848.36,385.81 849.29,394.15" fill="none" stroke="#0a22da" stroke-width="4.3" opacity="0.95"/>
<path d="M841.09,184.15 C841.16,192.48 840.5,217.48 841.5,234.15 C842.5,250.81 845.76,265.81 847.09,284.15 C848.43,302.48 848.16,325.81 849.5,344.15 C850.83,362.48 854.16,385.81 855.09,394.15" fill="none" stroke="#34e0ff" stroke-width="4.2" opacity="0.92"/>
<path d="M846.54,190.1 C846.91,198.44 847.78,223.44 848.78,240.1 C849.78,256.77 851.2,271.77 852.54,290.1 C853.87,308.44 855.44,331.77 856.78,350.1 C858.11,368.44 859.91,391.77 860.54,400.1" fill="none" stroke="#0a22da" stroke-width="3.5" opacity="0.95"/>
<path d="M852.34,190.1 C852.71,198.44 853.58,223.44 854.58,240.1 C855.58,256.77 857,271.77 858.34,290.1 C859.67,308.44 861.24,331.77 862.58,350.1 C863.91,368.44 865.71,391.77 866.34,400.1" fill="none" stroke="#34e0ff" stroke-width="3.5" opacity="0.92"/>
<path d="M857.45,195.89 C857.93,204.22 859.35,229.22 860.35,245.89 C861.35,262.55 862.12,277.55 863.45,295.89 C864.78,314.22 867.02,337.55 868.35,355.89 C869.68,374.22 870.93,397.55 871.45,405.89" fill="none" stroke="#0a22da" stroke-width="4.1" opacity="0.95"/>
<path d="M863.25,195.89 C863.73,204.22 865.15,229.22 866.15,245.89 C867.15,262.55 867.92,277.55 869.25,295.89 C870.58,314.22 872.82,337.55 874.15,355.89 C875.48,374.22 876.73,397.55 877.25,405.89" fill="none" stroke="#34e0ff" stroke-width="3.8" opacity="0.92"/>
<path d="M869.12,202.07 C869.41,210.41 869.89,235.41 870.89,252.07 C871.89,268.74 873.79,283.74 875.12,302.07 C876.45,320.41 877.55,343.74 878.89,362.07 C880.22,380.41 882.41,403.74 883.12,412.07" fill="none" stroke="#0a22da" stroke-width="3.9" opacity="0.95"/>
<path d="M874.92,202.07 C875.21,210.41 875.69,235.41 876.69,252.07 C877.69,268.74 879.59,283.74 880.92,302.07 C882.25,320.41 883.35,343.74 884.69,362.07 C886.02,380.41 888.21,403.74 888.92,412.07" fill="none" stroke="#34e0ff" stroke-width="4.4" opacity="0.92"/>
<path d="M881.02,208.38 C881.14,216.71 880.74,241.71 881.74,258.38 C882.74,275.05 885.68,290.05 887.02,308.38 C888.35,326.71 888.41,350.05 889.74,368.38 C891.07,386.71 894.14,410.05 895.02,418.38" fill="none" stroke="#0a22da" stroke-width="4.3" opacity="0.95"/>
<path d="M886.82,208.38 C886.94,216.71 886.54,241.71 887.54,258.38 C888.54,275.05 891.48,290.05 892.82,308.38 C894.15,326.71 894.21,350.05 895.54,368.38 C896.87,386.71 899.94,410.05 900.82,418.38" fill="none" stroke="#34e0ff" stroke-width="4.0" opacity="0.92"/>
<path d="M893.27,214.87 C893.79,223.21 895.42,248.21 896.42,264.87 C897.42,281.54 897.94,296.54 899.27,314.87 C900.6,333.21 903.08,356.54 904.42,374.87 C905.75,393.21 906.79,416.54 907.27,424.87" fill="none" stroke="#0a22da" stroke-width="3.9" opacity="0.95"/>
<path d="M899.07,214.87 C899.59,223.21 901.22,248.21 902.22,264.87 C903.22,281.54 903.74,296.54 905.07,314.87 C906.4,333.21 908.88,356.54 910.22,374.87 C911.55,393.21 912.59,416.54 913.07,424.87" fill="none" stroke="#34e0ff" stroke-width="4.6" opacity="0.92"/>
<path d="M904,220.56 C904.27,228.9 904.6,253.9 905.6,270.56 C906.6,287.23 908.67,302.23 910,320.56 C911.34,338.9 912.26,362.23 913.6,380.56 C914.93,398.9 917.27,422.23 918,430.56" fill="none" stroke="#0a22da" stroke-width="4.6" opacity="0.95"/>
<path d="M909.8,220.56 C910.07,228.9 910.4,253.9 911.4,270.56 C912.4,287.23 914.47,302.23 915.8,320.56 C917.14,338.9 918.06,362.23 919.4,380.56 C920.73,398.9 923.07,422.23 923.8,430.56" fill="none" stroke="#34e0ff" stroke-width="3.6" opacity="0.92"/>
<path d="M915.48,226.65 C915.43,234.98 914.18,259.98 915.18,276.65 C916.18,293.31 920.15,308.31 921.48,326.65 C922.82,344.98 921.85,368.31 923.18,386.65 C924.51,404.98 928.43,428.31 929.48,436.65" fill="none" stroke="#0a22da" stroke-width="4.5" opacity="0.95"/>
<path d="M921.28,226.65 C921.23,234.98 919.98,259.98 920.98,276.65 C921.98,293.31 925.95,308.31 927.28,326.65 C928.62,344.98 927.65,368.31 928.98,386.65 C930.31,404.98 934.23,428.31 935.28,436.65" fill="none" stroke="#34e0ff" stroke-width="4.3" opacity="0.92"/>
<path d="M855,284 C859.17,285.67 871.67,291 880,294 C888.33,297 896.33,299 905,302 C913.67,305 927.5,310.33 932,312" fill="none" stroke="#0a34e4" stroke-width="9" opacity="0.75" filter="url(#bb3)"/>
<ellipse cx="976" cy="277" rx="16" ry="9" fill="#0a38e6"/>
</g></g>
<g clip-path="url(#clipBR)"><g filter="url(#bb2)">
<path d="M962,274 C964.5,267 980,257.5 990,248 C1000,238.5 1012.83,226.33 1022,217 C1031.17,207.67 1038.17,199.5 1045,192 C1051.83,184.5 1055.5,179.5 1063,172 C1070.5,164.5 1081.67,154.83 1090,147 C1098.33,139.17 1103.5,128.17 1113,125 C1122.5,121.83 1134.5,125.17 1147,128 C1159.5,130.83 1172.5,139.33 1188,142 C1203.5,144.67 1231.33,111 1240,144 C1248.67,177 1247.17,307.5 1240,340 C1232.83,372.5 1207,340.17 1197,339 C1187,337.83 1185.17,336.5 1180,333 C1174.83,329.5 1170.67,323.5 1166,318 C1161.33,312.5 1159,304.33 1152,300 C1145,295.67 1134.33,293.67 1124,292 C1113.67,290.33 1100.17,290.5 1090,290 C1079.83,289.5 1073,289 1063,289 C1053,289 1040.5,289.67 1030,290 C1019.5,290.33 1009.17,291 1000,291 C990.83,291 981.33,292.83 975,290 C968.67,287.17 959.5,281 962,274 Z" fill="#0a58f6"/>
<ellipse cx="1060" cy="245" rx="60" ry="34" fill="#0648ee" opacity="0.8" filter="url(#bb3)"/>
<path d="M971,284 C975.67,279.67 989,267.5 999,258 C1009,248.5 1021.83,236.33 1031,227 C1040.17,217.67 1047.17,209.5 1054,202 C1060.83,194.5 1064.5,189.5 1072,182 C1079.5,174.5 1090.67,164.83 1099,157 C1107.33,149.17 1118.17,138.67 1122,135" fill="none" stroke="#1490ff" stroke-width="16" opacity="0.8" filter="url(#bb3)"/>
<path d="M975.0,266.4 L981.0,291" stroke="#0420d8" stroke-width="5" opacity="0.8"/>
<path d="M988.3,264.0 L994.3,291" stroke="#0420d8" stroke-width="5" opacity="0.8"/>
<path d="M1002.6,262.5 L1008.6,291" stroke="#0420d8" stroke-width="5" opacity="0.8"/>
<path d="M1016.5,265.9 L1022.5,291" stroke="#0420d8" stroke-width="5" opacity="0.8"/>
<path d="M1032.2,261.2 L1038.2,291" stroke="#0420d8" stroke-width="5" opacity="0.8"/>
<path d="M1046.9,255.8 L1052.9,291" stroke="#0420d8" stroke-width="5" opacity="0.8"/>
<path d="M1061.7,263.4 L1067.7,291" stroke="#0420d8" stroke-width="5" opacity="0.8"/>
<path d="M1077.7,265.7 L1083.7,291" stroke="#0420d8" stroke-width="5" opacity="0.8"/>
<path d="M1090.8,260.0 L1096.8,291" stroke="#0420d8" stroke-width="5" opacity="0.8"/>
<path d="M1105.5,255.3 L1111.5,291" stroke="#0420d8" stroke-width="5" opacity="0.8"/>
<path d="M1108,110 C1107,120 1104.01,150 1102.01,170 C1100.01,190 1096.67,210 1096,230 C1095.33,250 1096.34,270 1098.01,290 C1099.67,310 1104.67,340 1106,350" fill="none" stroke="#0a22e0" stroke-width="3.7" opacity="0.9"/>
<path d="M1115,110 C1114,120 1111.01,150 1109.01,170 C1107.01,190 1103.67,210 1103,230 C1102.33,250 1103.34,270 1105.01,290 C1106.67,310 1111.67,340 1113,350" fill="none" stroke="#22d6ff" stroke-width="3.6" opacity="0.9"/>
<path d="M1122.92,110 C1121.88,120 1118.7,150 1116.7,170 C1114.7,190 1111.59,210 1110.92,230 C1110.25,250 1111.03,270 1112.7,290 C1114.36,310 1119.55,340 1120.92,350" fill="none" stroke="#0a22e0" stroke-width="4.0" opacity="0.9"/>
<path d="M1129.92,110 C1128.88,120 1125.7,150 1123.7,170 C1121.7,190 1118.59,210 1117.92,230 C1117.25,250 1118.03,270 1119.7,290 C1121.36,310 1126.55,340 1127.92,350" fill="none" stroke="#22d6ff" stroke-width="4.1" opacity="0.9"/>
<path d="M1138.1,110 C1137.01,120 1133.58,150 1131.58,170 C1129.58,190 1126.77,210 1126.1,230 C1125.43,250 1125.92,270 1127.58,290 C1129.25,310 1134.68,340 1136.1,350" fill="none" stroke="#0a22e0" stroke-width="4.4" opacity="0.9"/>
<path d="M1145.1,110 C1144.01,120 1140.58,150 1138.58,170 C1136.58,190 1133.77,210 1133.1,230 C1132.43,250 1132.92,270 1134.58,290 C1136.25,310 1141.68,340 1143.1,350" fill="none" stroke="#22d6ff" stroke-width="4.3" opacity="0.9"/>
<path d="M1153.31,110 C1152.96,120 1153.22,150 1151.22,170 C1149.22,190 1141.97,210 1141.31,230 C1140.64,250 1145.56,270 1147.22,290 C1148.89,310 1150.63,340 1151.31,350" fill="none" stroke="#0a22e0" stroke-width="5.2" opacity="0.9"/>
<path d="M1160.31,110 C1159.96,120 1160.22,150 1158.22,170 C1156.22,190 1148.97,210 1148.31,230 C1147.64,250 1152.56,270 1154.22,290 C1155.89,310 1157.63,340 1158.31,350" fill="none" stroke="#22d6ff" stroke-width="3.9" opacity="0.9"/>
<path d="M1167.35,110 C1166.54,120 1164.5,150 1162.5,170 C1160.5,190 1156.01,210 1155.35,230 C1154.68,250 1156.83,270 1158.5,290 C1160.17,310 1164.2,340 1165.35,350" fill="none" stroke="#0a22e0" stroke-width="5.3" opacity="0.9"/>
<path d="M1174.35,110 C1173.54,120 1171.5,150 1169.5,170 C1167.5,190 1163.01,210 1162.35,230 C1161.68,250 1163.83,270 1165.5,290 C1167.17,310 1171.2,340 1172.35,350" fill="none" stroke="#22d6ff" stroke-width="4.9" opacity="0.9"/>
<path d="M1180.72,110 C1179.73,120 1176.78,150 1174.78,170 C1172.78,190 1169.39,210 1168.72,230 C1168.06,250 1169.11,270 1170.78,290 C1172.45,310 1177.4,340 1178.72,350" fill="none" stroke="#0a22e0" stroke-width="4.0" opacity="0.9"/>
<path d="M1187.72,110 C1186.73,120 1183.78,150 1181.78,170 C1179.78,190 1176.39,210 1175.72,230 C1175.06,250 1176.11,270 1177.78,290 C1179.45,310 1184.4,340 1185.72,350" fill="none" stroke="#22d6ff" stroke-width="3.9" opacity="0.9"/>
<path d="M1194.94,110 C1194.36,120 1193.47,150 1191.47,170 C1189.47,190 1183.6,210 1182.94,230 C1182.27,250 1185.8,270 1187.47,290 C1189.14,310 1192.02,340 1192.94,350" fill="none" stroke="#0a22e0" stroke-width="4.0" opacity="0.9"/>
<path d="M1201.94,110 C1201.36,120 1200.47,150 1198.47,170 C1196.47,190 1190.6,210 1189.94,230 C1189.27,250 1192.8,270 1194.47,290 C1196.14,310 1199.02,340 1199.94,350" fill="none" stroke="#22d6ff" stroke-width="3.5" opacity="0.9"/>
<path d="M1208.98,110 C1208.19,120 1206.2,150 1204.2,170 C1202.2,190 1197.65,210 1196.98,230 C1196.32,250 1198.53,270 1200.2,290 C1201.87,310 1205.85,340 1206.98,350" fill="none" stroke="#0a22e0" stroke-width="4.6" opacity="0.9"/>
<path d="M1215.98,110 C1215.19,120 1213.2,150 1211.2,170 C1209.2,190 1204.65,210 1203.98,230 C1203.32,250 1205.53,270 1207.2,290 C1208.87,310 1212.85,340 1213.98,350" fill="none" stroke="#22d6ff" stroke-width="4.9" opacity="0.9"/>
<path d="M1223.71,110 C1223.06,120 1221.8,150 1219.8,170 C1217.8,190 1212.38,210 1211.71,230 C1211.04,250 1214.14,270 1215.8,290 C1217.47,310 1220.72,340 1221.71,350" fill="none" stroke="#0a22e0" stroke-width="4.7" opacity="0.9"/>
<path d="M1230.71,110 C1230.06,120 1228.8,150 1226.8,170 C1224.8,190 1219.38,210 1218.71,230 C1218.04,250 1221.14,270 1222.8,290 C1224.47,310 1227.72,340 1228.71,350" fill="none" stroke="#22d6ff" stroke-width="4.5" opacity="0.9"/>
<path d="M1236.84,110 C1236.58,120 1237.24,150 1235.24,170 C1233.24,190 1225.51,210 1224.84,230 C1224.18,250 1229.57,270 1231.24,290 C1232.91,310 1234.24,340 1234.84,350" fill="none" stroke="#0a22e0" stroke-width="5.1" opacity="0.9"/>
<path d="M1243.84,110 C1243.58,120 1244.24,150 1242.24,170 C1240.24,190 1232.51,210 1231.84,230 C1231.18,250 1236.57,270 1238.24,290 C1239.91,310 1241.24,340 1241.84,350" fill="none" stroke="#22d6ff" stroke-width="4.8" opacity="0.9"/>
<path d="M1251.84,110 C1251.06,120 1249.19,150 1247.19,170 C1245.19,190 1240.51,210 1239.84,230 C1239.17,250 1241.53,270 1243.19,290 C1244.86,310 1248.73,340 1249.84,350" fill="none" stroke="#0a22e0" stroke-width="4.3" opacity="0.9"/>
<path d="M1258.84,110 C1258.06,120 1256.19,150 1254.19,170 C1252.19,190 1247.51,210 1246.84,230 C1246.17,250 1248.53,270 1250.19,290 C1251.86,310 1255.73,340 1256.84,350" fill="none" stroke="#22d6ff" stroke-width="3.7" opacity="0.9"/>
</g></g>
<g filter="url(#bb1)">
<ellipse cx="908" cy="116" rx="7" ry="5" fill="#0a40f0" stroke="#20d0ff" stroke-width="2.5" transform="rotate(-30 908 116)"/>
<ellipse cx="812" cy="160" rx="6" ry="5" fill="#0a40f0" stroke="#20d0ff" stroke-width="2.5"/>
<ellipse cx="803" cy="144" rx="4" ry="2.5" fill="#20b0ff"/>
<path d="M830,166 C845,172 860,168 866,160" fill="none" stroke="#30dcf0" stroke-width="5"/>
<ellipse cx="1196" cy="114" rx="9" ry="5" fill="#0a30e8"/>
<ellipse cx="1224" cy="106" rx="6" ry="14" fill="#0a38ea"/>
<ellipse cx="1205" cy="364" rx="6" ry="3" fill="#1050f0" transform="rotate(25 1205 364)"/>
</g>
<path d="M756.99,72.13L750.01,57.07M773.16,72.1L766.04,57.1M789.32,72.07L782.08,57.13M805.48,72.04L798.12,57.16M821.64,72.01L814.16,57.19M837.81,71.98L830.19,57.22M853.97,71.94L846.23,57.26M870.13,71.91L862.27,57.29M886.29,71.88L878.31,57.32M902.45,71.85L894.35,57.35M918.61,71.81L910.39,57.39M934.77,71.78L926.43,57.42M950.93,71.74L942.47,57.46M967.09,71.71L958.51,57.49M983.25,71.67L974.55,57.53M999.41,71.63L990.59,57.57M1015.57,71.6L1006.63,57.6M1031.72,71.56L1022.68,57.64M1047.88,71.52L1038.72,57.68M1064.04,71.48L1054.76,57.72M1080.2,71.44L1070.8,57.76M1096.35,71.4L1086.85,57.8M1112.51,71.36L1102.89,57.84M1128.67,71.32L1118.93,57.88M1144.82,71.28L1134.98,57.92M1160.98,71.24L1151.02,57.96M1177.13,71.2L1167.07,58M1193.29,71.16L1183.11,58.04M1209.44,71.11L1199.16,58.09M1225.6,71.07L1215.2,58.13M1241.75,71.03L1231.25,58.17M756.99,88.18L750.01,73.12M773.16,88.15L766.04,73.15M789.32,88.12L782.08,73.18M805.48,88.09L798.12,73.21M821.64,88.06L814.16,73.24M837.81,88.03L830.19,73.27M853.97,87.99L846.23,73.31M870.13,87.96L862.27,73.34M886.29,87.93L878.31,73.37M902.45,87.9L894.35,73.4M918.61,87.86L910.39,73.44M934.77,87.83L926.43,73.47M950.93,87.79L942.47,73.51M967.09,87.76L958.51,73.54M983.25,87.72L974.55,73.58M999.41,87.68L990.59,73.62M1015.57,87.65L1006.63,73.65M1031.72,87.61L1022.68,73.69M1047.88,87.57L1038.72,73.73M1064.04,87.53L1054.76,73.77M1080.2,87.49L1070.8,73.81M1096.35,87.45L1086.85,73.85M1112.51,87.41L1102.89,73.89M1128.67,87.37L1118.93,73.93M1144.82,87.33L1134.98,73.97M1160.98,87.29L1151.02,74.01M1177.13,87.25L1167.07,74.05M1193.29,87.21L1183.11,74.09M1209.44,87.16L1199.16,74.14M1225.6,87.12L1215.2,74.18M1241.75,87.08L1231.25,74.22M756.99,104.23L750.01,89.17M773.16,104.2L766.04,89.2M789.32,104.17L782.08,89.23M805.48,104.14L798.12,89.26M821.64,104.11L814.16,89.29M837.81,104.08L830.19,89.32M853.97,104.04L846.23,89.36M870.13,104.01L862.27,89.39M886.29,103.98L878.31,89.42M902.45,103.95L894.35,89.45M918.61,103.91L910.39,89.49M934.77,103.88L926.43,89.52M950.93,103.84L942.47,89.56M967.09,103.81L958.51,89.59M983.25,103.77L974.55,89.63M999.41,103.73L990.59,89.67M1015.57,103.7L1006.63,89.7M1031.72,103.66L1022.68,89.74M1047.88,103.62L1038.72,89.78M1064.04,103.58L1054.76,89.82M1080.2,103.54L1070.8,89.86M1096.35,103.5L1086.85,89.9M1112.51,103.46L1102.89,89.94M1128.67,103.42L1118.93,89.98M1144.82,103.38L1134.98,90.02M1160.98,103.34L1151.02,90.06M1177.13,103.3L1167.07,90.1M1193.29,103.26L1183.11,90.14M1209.44,103.21L1199.16,90.19M1225.6,103.17L1215.2,90.23M756.99,120.28L750.01,105.22M773.16,120.25L766.04,105.25M789.32,120.22L782.08,105.28M805.48,120.19L798.12,105.31M821.64,120.16L814.16,105.34M837.81,120.13L830.19,105.37M853.97,120.09L846.23,105.41M870.13,120.06L862.27,105.44M886.29,120.03L878.31,105.47M902.45,120L894.35,105.5M918.61,119.96L910.39,105.54M934.77,119.93L926.43,105.57M950.93,119.89L942.47,105.61M967.09,119.86L958.51,105.64M983.25,119.82L974.55,105.68M999.41,119.78L990.59,105.72M1015.57,119.75L1006.63,105.75M1031.72,119.71L1022.68,105.79M1047.88,119.67L1038.72,105.83M1064.04,119.63L1054.76,105.87M1080.2,119.59L1070.8,105.91M1096.35,119.55L1086.85,105.95M1112.51,119.51L1102.89,105.99M1128.67,119.47L1118.93,106.03M1144.82,119.43L1134.98,106.07M1160.98,119.39L1151.02,106.11M1177.13,119.35L1167.07,106.15M1193.29,119.31L1183.11,106.19M1209.44,119.26L1199.16,106.24M1225.6,119.22L1215.2,106.28M1241.75,119.18L1231.25,106.32M756.99,136.33L750.01,121.27M773.16,136.3L766.04,121.3M789.32,136.27L782.08,121.33M805.48,136.24L798.12,121.36M821.64,136.21L814.16,121.39M837.81,136.18L830.19,121.42M853.97,136.14L846.23,121.46M870.13,136.11L862.27,121.49M886.29,136.08L878.31,121.52M902.45,136.05L894.35,121.55M918.61,136.01L910.39,121.59M934.77,135.98L926.43,121.62M950.93,135.94L942.47,121.66M967.09,135.91L958.51,121.69M983.25,135.87L974.55,121.73M999.41,135.83L990.59,121.77M1015.57,135.8L1006.63,121.8M1031.72,135.76L1022.68,121.84M1047.88,135.72L1038.72,121.88M1064.04,135.68L1054.76,121.92M1080.2,135.64L1070.8,121.96M1096.35,135.6L1086.85,122M1112.51,135.56L1102.89,122.04M1160.98,135.44L1151.02,122.16M1177.13,135.4L1167.07,122.2M1193.29,135.36L1183.11,122.24M1209.44,135.31L1199.16,122.29M1225.6,135.27L1215.2,122.33M1241.75,135.23L1231.25,122.37M756.99,152.38L750.01,137.32M773.16,152.35L766.04,137.35M789.32,152.32L782.08,137.38M805.48,152.29L798.12,137.41M821.64,152.26L814.16,137.44M837.81,152.23L830.19,137.47M853.97,152.19L846.23,137.51M870.13,152.16L862.27,137.54M886.29,152.13L878.31,137.57M902.45,152.1L894.35,137.6M918.61,152.06L910.39,137.64M934.77,152.03L926.43,137.67M950.93,151.99L942.47,137.71M967.09,151.96L958.51,137.74M983.25,151.92L974.55,137.78M999.41,151.88L990.59,137.82M1015.57,151.85L1006.63,137.85M1031.72,151.81L1022.68,137.89M1047.88,151.77L1038.72,137.93M1064.04,151.73L1054.76,137.97M1080.2,151.69L1070.8,138.01M1096.35,151.65L1086.85,138.05M789.32,168.37L782.08,153.43M805.48,168.34L798.12,153.46M821.64,168.31L814.16,153.49M837.81,168.28L830.19,153.52M853.97,168.24L846.23,153.56M870.13,168.21L862.27,153.59M886.29,168.18L878.31,153.62M902.45,168.15L894.35,153.65M918.61,168.11L910.39,153.69M934.77,168.08L926.43,153.72M950.93,168.04L942.47,153.76M967.09,168.01L958.51,153.79M983.25,167.97L974.55,153.83M999.41,167.93L990.59,153.87M1015.57,167.9L1006.63,153.9M1031.72,167.86L1022.68,153.94M1047.88,167.82L1038.72,153.98M1064.04,167.78L1054.76,154.02M805.48,184.39L798.12,169.51M821.64,184.36L814.16,169.54M837.81,184.33L830.19,169.57M853.97,184.29L846.23,169.61M870.13,184.26L862.27,169.64M886.29,184.23L878.31,169.67M902.45,184.2L894.35,169.7M918.61,184.16L910.39,169.74M934.77,184.13L926.43,169.77M950.93,184.09L942.47,169.81M967.09,184.06L958.51,169.84M983.25,184.02L974.55,169.88M999.41,183.98L990.59,169.92M1015.57,183.95L1006.63,169.95M1031.72,183.91L1022.68,169.99M1047.88,183.87L1038.72,170.03M837.81,200.38L830.19,185.62M853.97,200.34L846.23,185.66M870.13,200.31L862.27,185.69M886.29,200.28L878.31,185.72M902.45,200.25L894.35,185.75M918.61,200.21L910.39,185.79M934.77,200.18L926.43,185.82M950.93,200.14L942.47,185.86M967.09,200.11L958.51,185.89M983.25,200.07L974.55,185.93M999.41,200.03L990.59,185.97M1015.57,200L1006.63,186M1031.72,199.96L1022.68,186.04M1047.88,199.92L1038.72,186.08M870.13,216.36L862.27,201.74M886.29,216.33L878.31,201.77M902.45,216.3L894.35,201.8M918.61,216.26L910.39,201.84M934.77,216.23L926.43,201.87M950.93,216.19L942.47,201.91M967.09,216.16L958.51,201.94M983.25,216.12L974.55,201.98M999.41,216.08L990.59,202.02M1015.57,216.05L1006.63,202.05M1031.72,216.01L1022.68,202.09M902.45,232.35L894.35,217.85M918.61,232.31L910.39,217.89M934.77,232.28L926.43,217.92M950.93,232.24L942.47,217.96M967.09,232.21L958.51,217.99M983.25,232.17L974.55,218.03M999.41,232.13L990.59,218.07M1015.57,232.1L1006.63,218.1M934.77,248.33L926.43,233.97M950.93,248.29L942.47,234.01M967.09,248.26L958.51,234.04M983.25,248.22L974.55,234.08M999.41,248.18L990.59,234.12M950.93,264.34L942.47,250.06M967.09,264.31L958.51,250.09M983.25,264.27L974.55,250.13M1055.63,296.7L1063.17,281.9M748.14,311.69L758.86,299.01M942.64,312.59L950.76,298.11M958.86,312.65L966.74,298.05M975.07,312.72L982.73,297.98M991.23,312.75L998.77,297.95M1007.33,312.75L1014.87,297.95M1023.43,312.75L1030.97,297.95M1039.53,312.75L1047.07,297.95M1055.63,312.75L1063.17,297.95M1071.73,312.75L1079.27,297.95M1087.83,312.75L1095.37,297.95M1103.93,312.75L1111.47,297.95M1120.03,312.75L1127.57,297.95M1136.13,312.75L1143.67,297.95M1152.23,312.75L1159.77,297.95M748.14,327.74L758.86,315.06M764.34,327.82L774.86,314.98M780.55,327.91L790.85,314.89M926.43,328.57L934.77,314.23M942.64,328.64L950.76,314.16M958.86,328.7L966.74,314.1M975.07,328.77L982.73,314.03M991.23,328.8L998.77,314M1007.33,328.8L1014.87,314M1023.43,328.8L1030.97,314M1039.53,328.8L1047.07,314M1055.63,328.8L1063.17,314M1071.73,328.8L1079.27,314M1087.83,328.8L1095.37,314M1103.93,328.8L1111.47,314M1120.03,328.8L1127.57,314M1136.13,328.8L1143.67,314M1152.23,328.8L1159.77,314M748.14,343.79L758.86,331.11M764.34,343.87L774.86,331.03M780.55,343.96L790.85,330.94M796.75,344.04L806.85,330.86M812.96,344.12L822.84,330.78M829.16,344.19L838.84,330.71M926.43,344.62L934.77,330.28M942.64,344.69L950.76,330.21M958.86,344.75L966.74,330.15M975.07,344.82L982.73,330.08M991.23,344.85L998.77,330.05M1007.33,344.85L1014.87,330.05M1023.43,344.85L1030.97,330.05M1039.53,344.85L1047.07,330.05M1055.63,344.85L1063.17,330.05M1071.73,344.85L1079.27,330.05M1087.83,344.85L1095.37,330.05M1103.93,344.85L1111.47,330.05M1120.03,344.85L1127.57,330.05M1136.13,344.85L1143.67,330.05M1152.23,344.85L1159.77,330.05M1168.33,344.85L1175.87,330.05M1184.43,344.85L1191.97,330.05M748.14,359.84L758.86,347.16M764.34,359.92L774.86,347.08M780.55,360.01L790.85,346.99M796.75,360.09L806.85,346.91M812.96,360.17L822.84,346.83M829.16,360.24L838.84,346.76M845.37,360.32L854.83,346.68M861.58,360.39L870.82,346.61M910.21,360.61L918.79,346.39M926.43,360.67L934.77,346.33M942.64,360.74L950.76,346.26M958.86,360.8L966.74,346.2M975.07,360.87L982.73,346.13M991.23,360.9L998.77,346.1M1007.33,360.9L1014.87,346.1M1023.43,360.9L1030.97,346.1M1039.53,360.9L1047.07,346.1M1055.63,360.9L1063.17,346.1M1071.73,360.9L1079.27,346.1M1087.83,360.9L1095.37,346.1M1103.93,360.9L1111.47,346.1M1120.03,360.9L1127.57,346.1M1136.13,360.9L1143.67,346.1M1152.23,360.9L1159.77,346.1M1168.33,360.9L1175.87,346.1M1184.43,360.9L1191.97,346.1M1200.53,360.9L1208.07,346.1M1216.63,360.9L1224.17,346.1M1232.73,360.9L1240.27,346.1M748.14,375.89L758.86,363.21M764.34,375.97L774.86,363.13M780.55,376.06L790.85,363.04M796.75,376.14L806.85,362.96M812.96,376.22L822.84,362.88M829.16,376.29L838.84,362.81M845.37,376.37L854.83,362.73M861.58,376.44L870.82,362.66M877.79,376.52L886.81,362.58M894,376.59L902.8,362.51M910.21,376.66L918.79,362.44M926.43,376.72L934.77,362.38M942.64,376.79L950.76,362.31M958.86,376.85L966.74,362.25M975.07,376.92L982.73,362.18M991.23,376.95L998.77,362.15M1007.33,376.95L1014.87,362.15M1023.43,376.95L1030.97,362.15M1039.53,376.95L1047.07,362.15M1055.63,376.95L1063.17,362.15M1071.73,376.95L1079.27,362.15M1087.83,376.95L1095.37,362.15M1103.93,376.95L1111.47,362.15M1120.03,376.95L1127.57,362.15M1136.13,376.95L1143.67,362.15M1152.23,376.95L1159.77,362.15M1168.33,376.95L1175.87,362.15M1184.43,376.95L1191.97,362.15M1200.53,376.95L1208.07,362.15M1216.63,376.95L1224.17,362.15M1232.73,376.95L1240.27,362.15M748.14,391.94L758.86,379.26M764.34,392.02L774.86,379.18M780.55,392.11L790.85,379.09M796.75,392.19L806.85,379.01M812.96,392.27L822.84,378.93M829.16,392.34L838.84,378.86M845.37,392.42L854.83,378.78M861.58,392.49L870.82,378.71M877.79,392.57L886.81,378.63M894,392.64L902.8,378.56M910.21,392.71L918.79,378.49M926.43,392.77L934.77,378.43M942.64,392.84L950.76,378.36M958.86,392.9L966.74,378.3M975.07,392.97L982.73,378.23M991.23,393L998.77,378.2M1007.33,393L1014.87,378.2M1023.43,393L1030.97,378.2M1039.53,393L1047.07,378.2M1055.63,393L1063.17,378.2M1071.73,393L1079.27,378.2M1087.83,393L1095.37,378.2M1103.93,393L1111.47,378.2M1120.03,393L1127.57,378.2M1136.13,393L1143.67,378.2M1152.23,393L1159.77,378.2M1168.33,393L1175.87,378.2M1184.43,393L1191.97,378.2M1200.53,393L1208.07,378.2M1216.63,393L1224.17,378.2M1232.73,393L1240.27,378.2M748.14,407.99L758.86,395.31M764.34,408.07L774.86,395.23M780.55,408.16L790.85,395.14M796.75,408.24L806.85,395.06M812.96,408.32L822.84,394.98M829.16,408.39L838.84,394.91M845.37,408.47L854.83,394.83M861.58,408.54L870.82,394.76M877.79,408.62L886.81,394.68M894,408.69L902.8,394.61M910.21,408.76L918.79,394.54M926.43,408.82L934.77,394.48M942.64,408.89L950.76,394.41M958.86,408.95L966.74,394.35M975.07,409.02L982.73,394.28M991.23,409.05L998.77,394.25M1007.33,409.05L1014.87,394.25M1023.43,409.05L1030.97,394.25M1039.53,409.05L1047.07,394.25M1055.63,409.05L1063.17,394.25M1071.73,409.05L1079.27,394.25M1087.83,409.05L1095.37,394.25M1103.93,409.05L1111.47,394.25M1120.03,409.05L1127.57,394.25M1136.13,409.05L1143.67,394.25M1152.23,409.05L1159.77,394.25M1168.33,409.05L1175.87,394.25M1184.43,409.05L1191.97,394.25M1200.53,409.05L1208.07,394.25M1216.63,409.05L1224.17,394.25M1232.73,409.05L1240.27,394.25" stroke="#000" stroke-width="1.4" fill="none"/>
</g>
<g clip-path="url(#clipB2)">
<rect x="750" y="400" width="485" height="250" fill="#a3f962"/>
<g filter="url(#bb3)">
<rect x="750" y="400" width="485" height="136" fill="#9ff768" opacity="0.6"/>
<path d="M884,400 L924,400 L906,419 Z" fill="#22b4ff" stroke="#40e0f0" stroke-width="5" />
<path d="M930,400 L1004,400 L985,421 L959,431 Z" fill="#28b6ff" stroke="#40e0f0" stroke-width="5" />
<path d="M1158,400 L1240,400 L1240,446 L1205,428 L1178,414 Z" fill="#109cff" stroke="#30d8f8" stroke-width="6" />
<path d="M960,650 L985,628 L1010,606 L1024,598 L1027,650 Z" fill="#28baff" stroke="#50e8e8" stroke-width="6" />
<path d="M905,650 L940,636 L975,640 L960,650 Z" fill="#30d0f8" stroke="none" stroke-width="0" />
<path d="M929,585 L935,610 L957,622 L941,633 L921,641 L898,634 L913,611 Z" fill="#0b5cf8" stroke="#28d8f4" stroke-width="5" />
<ellipse cx="790" cy="645" rx="12" ry="4" fill="#1060f0"/>
<ellipse cx="775" cy="640" rx="14" ry="8" fill="#60e8c0" opacity="0.6"/>
</g>
<path d="M750,532.8 L1240,540.2" stroke="#f2ee20" stroke-width="3.2" filter="url(#bb1)"/>
<path d="M747.93,416.19L755.47,401.41M764.04,416.2L771.56,401.4M780.16,416.21L787.64,401.39M796.28,416.22L803.72,401.38M812.4,416.23L819.8,401.37M828.51,416.24L835.89,401.36M844.63,416.25L851.97,401.35M860.75,416.25L868.05,401.35M876.87,416.26L884.13,401.34M892.99,416.27L900.21,401.33M909.1,416.28L916.3,401.32M925.22,416.29L932.38,401.31M941.34,416.3L948.46,401.3M957.46,416.31L964.54,401.29M973.58,416.31L980.62,401.29M989.69,416.32L996.71,401.28M1005.81,416.33L1012.79,401.27M1021.93,416.34L1028.87,401.26M1038.05,416.35L1044.95,401.25M1054.17,416.36L1061.03,401.24M1070.28,416.36L1077.12,401.24M1086.4,416.37L1093.2,401.23M1102.52,416.38L1109.28,401.22M1118.64,416.39L1125.36,401.21M1134.76,416.4L1141.44,401.2M1150.87,416.4L1157.53,401.2M1166.99,416.41L1173.61,401.19M1183.11,416.42L1189.69,401.18M1199.23,416.43L1205.77,401.17M1215.35,416.44L1221.85,401.16M1231.46,416.44L1237.94,401.16M747.93,432.29L755.47,417.51M764.04,432.3L771.56,417.5M780.16,432.31L787.64,417.49M796.28,432.32L803.72,417.48M812.4,432.33L819.8,417.47M828.51,432.34L835.89,417.46M844.63,432.35L851.97,417.45M860.75,432.35L868.05,417.45M876.87,432.36L884.13,417.44M892.99,432.37L900.21,417.43M909.1,432.38L916.3,417.42M925.22,432.39L932.38,417.41M941.34,432.4L948.46,417.4M957.46,432.41L964.54,417.39M973.58,432.41L980.62,417.39M989.69,432.42L996.71,417.38M1005.81,432.43L1012.79,417.37M1021.93,432.44L1028.87,417.36M1038.05,432.45L1044.95,417.35M1054.17,432.46L1061.03,417.34M1070.28,432.46L1077.12,417.34M1086.4,432.47L1093.2,417.33M1102.52,432.48L1109.28,417.32M1118.64,432.49L1125.36,417.31M1134.76,432.5L1141.44,417.3M1150.87,432.5L1157.53,417.3M1166.99,432.51L1173.61,417.29M1183.11,432.52L1189.69,417.28M1199.23,432.53L1205.77,417.27M1215.35,432.54L1221.85,417.26M1231.46,432.54L1237.94,417.26M747.93,448.39L755.47,433.61M764.04,448.4L771.56,433.6M780.16,448.41L787.64,433.59M796.28,448.42L803.72,433.58M812.4,448.43L819.8,433.57M828.51,448.44L835.89,433.56M844.63,448.45L851.97,433.55M860.75,448.45L868.05,433.55M876.87,448.46L884.13,433.54M892.99,448.47L900.21,433.53M909.1,448.48L916.3,433.52M925.22,448.49L932.38,433.51M941.34,448.5L948.46,433.5M957.46,448.51L964.54,433.49M973.58,448.51L980.62,433.49M989.69,448.52L996.71,433.48M1005.81,448.53L1012.79,433.47M1021.93,448.54L1028.87,433.46M1038.05,448.55L1044.95,433.45M1054.17,448.56L1061.03,433.44M1070.28,448.56L1077.12,433.44M1086.4,448.57L1093.2,433.43M1102.52,448.58L1109.28,433.42M1118.64,448.59L1125.36,433.41M1134.76,448.6L1141.44,433.4M1150.87,448.6L1157.53,433.4M1166.99,448.61L1173.61,433.39M1183.11,448.62L1189.69,433.38M1199.23,448.63L1205.77,433.37M1215.35,448.64L1221.85,433.36M1231.46,448.64L1237.94,433.36M747.93,464.49L755.47,449.71M764.04,464.5L771.56,449.7M780.16,464.51L787.64,449.69M796.28,464.52L803.72,449.68M812.4,464.53L819.8,449.67M828.51,464.54L835.89,449.66M844.63,464.55L851.97,449.65M860.75,464.55L868.05,449.65M876.87,464.56L884.13,449.64M892.99,464.57L900.21,449.63M909.1,464.58L916.3,449.62M925.22,464.59L932.38,449.61M941.34,464.6L948.46,449.6M957.46,464.61L964.54,449.59M973.58,464.61L980.62,449.59M989.69,464.62L996.71,449.58M1005.81,464.63L1012.79,449.57M1021.93,464.64L1028.87,449.56M1038.05,464.65L1044.95,449.55M1054.17,464.66L1061.03,449.54M1070.28,464.66L1077.12,449.54M1086.4,464.67L1093.2,449.53M1102.52,464.68L1109.28,449.52M1118.64,464.69L1125.36,449.51M1134.76,464.7L1141.44,449.5M1150.87,464.7L1157.53,449.5M1166.99,464.71L1173.61,449.49M1183.11,464.72L1189.69,449.48M1199.23,464.73L1205.77,449.47M1215.35,464.74L1221.85,449.46M1231.46,464.74L1237.94,449.46M747.93,480.59L755.47,465.81M764.04,480.6L771.56,465.8M780.16,480.61L787.64,465.79M796.28,480.62L803.72,465.78M812.4,480.63L819.8,465.77M828.51,480.64L835.89,465.76M844.63,480.65L851.97,465.75M860.75,480.65L868.05,465.75M876.87,480.66L884.13,465.74M892.99,480.67L900.21,465.73M909.1,480.68L916.3,465.72M925.22,480.69L932.38,465.71M941.34,480.7L948.46,465.7M957.46,480.71L964.54,465.69M973.58,480.71L980.62,465.69M989.69,480.72L996.71,465.68M1005.81,480.73L1012.79,465.67M1021.93,480.74L1028.87,465.66M1038.05,480.75L1044.95,465.65M1054.17,480.76L1061.03,465.64M1070.28,480.76L1077.12,465.64M1086.4,480.77L1093.2,465.63M1102.52,480.78L1109.28,465.62M1118.64,480.79L1125.36,465.61M1134.76,480.8L1141.44,465.6M1150.87,480.8L1157.53,465.6M1166.99,480.81L1173.61,465.59M1183.11,480.82L1189.69,465.58M1199.23,480.83L1205.77,465.57M1215.35,480.84L1221.85,465.56M1231.46,480.84L1237.94,465.56M747.93,496.69L755.47,481.91M764.04,496.7L771.56,481.9M780.16,496.71L787.64,481.89M796.28,496.72L803.72,481.88M812.4,496.73L819.8,481.87M828.51,496.74L835.89,481.86M844.63,496.75L851.97,481.85M860.75,496.75L868.05,481.85M876.87,496.76L884.13,481.84M892.99,496.77L900.21,481.83M909.1,496.78L916.3,481.82M925.22,496.79L932.38,481.81M941.34,496.8L948.46,481.8M957.46,496.81L964.54,481.79M973.58,496.81L980.62,481.79M989.69,496.82L996.71,481.78M1005.81,496.83L1012.79,481.77M1021.93,496.84L1028.87,481.76M1038.05,496.85L1044.95,481.75M1054.17,496.86L1061.03,481.74M1070.28,496.86L1077.12,481.74M1086.4,496.87L1093.2,481.73M1102.52,496.88L1109.28,481.72M1118.64,496.89L1125.36,481.71M1134.76,496.9L1141.44,481.7M1150.87,496.9L1157.53,481.7M1166.99,496.91L1173.61,481.69M1183.11,496.92L1189.69,481.68M1199.23,496.93L1205.77,481.67M1215.35,496.94L1221.85,481.66M1231.46,496.94L1237.94,481.66M747.93,512.79L755.47,498.01M764.04,512.8L771.56,498M780.16,512.81L787.64,497.99M796.28,512.82L803.72,497.98M812.4,512.83L819.8,497.97M828.51,512.84L835.89,497.96M844.63,512.85L851.97,497.95M860.75,512.85L868.05,497.95M876.87,512.86L884.13,497.94M892.99,512.87L900.21,497.93M909.1,512.88L916.3,497.92M925.22,512.89L932.38,497.91M941.34,512.9L948.46,497.9M957.46,512.91L964.54,497.89M973.58,512.91L980.62,497.89M989.69,512.92L996.71,497.88M1005.81,512.93L1012.79,497.87M1021.93,512.94L1028.87,497.86M1038.05,512.95L1044.95,497.85M1054.17,512.96L1061.03,497.84M1070.28,512.96L1077.12,497.84M1086.4,512.97L1093.2,497.83M1102.52,512.98L1109.28,497.82M1118.64,512.99L1125.36,497.81M1134.76,513L1141.44,497.8M1150.87,513L1157.53,497.8M1166.99,513.01L1173.61,497.79M1183.11,513.02L1189.69,497.78M1199.23,513.03L1205.77,497.77M1215.35,513.04L1221.85,497.76M1231.46,513.04L1237.94,497.76M747.93,528.89L755.47,514.11M764.04,528.9L771.56,514.1M780.16,528.91L787.64,514.09M796.28,528.92L803.72,514.08M812.4,528.93L819.8,514.07M828.51,528.94L835.89,514.06M844.63,528.95L851.97,514.05M860.75,528.95L868.05,514.05M876.87,528.96L884.13,514.04M892.99,528.97L900.21,514.03M909.1,528.98L916.3,514.02M925.22,528.99L932.38,514.01M941.34,529L948.46,514M957.46,529.01L964.54,513.99M973.58,529.01L980.62,513.99M989.69,529.02L996.71,513.98M1005.81,529.03L1012.79,513.97M1021.93,529.04L1028.87,513.96M1038.05,529.05L1044.95,513.95M1054.17,529.06L1061.03,513.94M1070.28,529.06L1077.12,513.94M1086.4,529.07L1093.2,513.93M1102.52,529.08L1109.28,513.92M1118.64,529.09L1125.36,513.91M1134.76,529.1L1141.44,513.9M1150.87,529.1L1157.53,513.9M1166.99,529.11L1173.61,513.89M1183.11,529.12L1189.69,513.88M1199.23,529.13L1205.77,513.87M1215.35,529.14L1221.85,513.86M1231.46,529.14L1237.94,513.86M755.08,545.18L748.32,530.02M771.18,545.18L764.42,530.02M787.28,545.18L780.52,530.02M803.38,545.18L796.62,530.02M819.48,545.18L812.72,530.02M835.58,545.18L828.82,530.02M851.68,545.18L844.92,530.02M867.78,545.18L861.02,530.02M883.88,545.18L877.12,530.02M899.98,545.18L893.22,530.02M916.08,545.18L909.32,530.02M932.18,545.18L925.42,530.02M948.28,545.18L941.52,530.02M964.38,545.18L957.62,530.02M980.48,545.18L973.72,530.02M996.58,545.18L989.82,530.02M1012.68,545.18L1005.92,530.02M1028.78,545.18L1022.02,530.02M1044.88,545.18L1038.12,530.02M1060.98,545.18L1054.22,530.02M1077.08,545.18L1070.32,530.02M1093.18,545.18L1086.42,530.02M1109.28,545.18L1102.52,530.02M1125.38,545.18L1118.62,530.02M1141.48,545.18L1134.72,530.02M1157.58,545.18L1150.82,530.02M1173.68,545.18L1166.92,530.02M1189.78,545.18L1183.02,530.02M1205.88,545.18L1199.12,530.02M1221.98,545.18L1215.22,530.02M1238.08,545.18L1231.32,530.02M755.08,561.28L748.32,546.12M771.18,561.28L764.42,546.12M787.28,561.28L780.52,546.12M803.38,561.28L796.62,546.12M819.48,561.28L812.72,546.12M835.58,561.28L828.82,546.12M851.68,561.28L844.92,546.12M867.78,561.28L861.02,546.12M883.88,561.28L877.12,546.12M899.98,561.28L893.22,546.12M916.08,561.28L909.32,546.12M932.18,561.28L925.42,546.12M948.28,561.28L941.52,546.12M964.38,561.28L957.62,546.12M980.48,561.28L973.72,546.12M996.58,561.28L989.82,546.12M1012.68,561.28L1005.92,546.12M1028.78,561.28L1022.02,546.12M1044.88,561.28L1038.12,546.12M1060.98,561.28L1054.22,546.12M1077.08,561.28L1070.32,546.12M1093.18,561.28L1086.42,546.12M1109.28,561.28L1102.52,546.12M1125.38,561.28L1118.62,546.12M1141.48,561.28L1134.72,546.12M1157.58,561.28L1150.82,546.12M1173.68,561.28L1166.92,546.12M1189.78,561.28L1183.02,546.12M1205.88,561.28L1199.12,546.12M1221.98,561.28L1215.22,546.12M1238.08,561.28L1231.32,546.12M755.08,577.38L748.32,562.22M771.18,577.38L764.42,562.22M787.28,577.38L780.52,562.22M803.38,577.38L796.62,562.22M819.48,577.38L812.72,562.22M835.58,577.38L828.82,562.22M851.68,577.38L844.92,562.22M867.78,577.38L861.02,562.22M883.88,577.38L877.12,562.22M899.98,577.38L893.22,562.22M916.08,577.38L909.32,562.22M932.18,577.38L925.42,562.22M948.28,577.38L941.52,562.22M964.38,577.38L957.62,562.22M980.48,577.38L973.72,562.22M996.58,577.38L989.82,562.22M1012.68,577.38L1005.92,562.22M1028.78,577.38L1022.02,562.22M1044.88,577.38L1038.12,562.22M1060.98,577.38L1054.22,562.22M1077.08,577.38L1070.32,562.22M1093.18,577.38L1086.42,562.22M1109.28,577.38L1102.52,562.22M1125.38,577.38L1118.62,562.22M1141.48,577.38L1134.72,562.22M1157.58,577.38L1150.82,562.22M1173.68,577.38L1166.92,562.22M1189.78,577.38L1183.02,562.22M1205.88,577.38L1199.12,562.22M1221.98,577.38L1215.22,562.22M1238.08,577.38L1231.32,562.22M755.08,593.48L748.32,578.32M771.18,593.48L764.42,578.32M787.28,593.48L780.52,578.32M803.38,593.48L796.62,578.32M819.48,593.48L812.72,578.32M835.58,593.48L828.82,578.32M851.68,593.48L844.92,578.32M867.78,593.48L861.02,578.32M883.88,593.48L877.12,578.32M899.98,593.48L893.22,578.32M916.08,593.48L909.32,578.32M948.28,593.48L941.52,578.32M964.38,593.48L957.62,578.32M980.48,593.48L973.72,578.32M996.58,593.48L989.82,578.32M1012.68,593.48L1005.92,578.32M1028.78,593.48L1022.02,578.32M1044.88,593.48L1038.12,578.32M1060.98,593.48L1054.22,578.32M1077.08,593.48L1070.32,578.32M1093.18,593.48L1086.42,578.32M1109.28,593.48L1102.52,578.32M1125.38,593.48L1118.62,578.32M1141.48,593.48L1134.72,578.32M1157.58,593.48L1150.82,578.32M1173.68,593.48L1166.92,578.32M1189.78,593.48L1183.02,578.32M1205.88,593.48L1199.12,578.32M1221.98,593.48L1215.22,578.32M1238.08,593.48L1231.32,578.32M755.08,609.58L748.32,594.42M771.18,609.58L764.42,594.42M787.28,609.58L780.52,594.42M803.38,609.58L796.62,594.42M819.48,609.58L812.72,594.42M835.58,609.58L828.82,594.42M851.68,609.58L844.92,594.42M867.78,609.58L861.02,594.42M883.88,609.58L877.12,594.42M899.98,609.58L893.22,594.42M916.08,609.58L909.32,594.42M948.28,609.58L941.52,594.42M964.38,609.58L957.62,594.42M980.48,609.58L973.72,594.42M996.58,609.58L989.82,594.42M1012.68,609.58L1005.92,594.42M1028.78,609.58L1022.02,594.42M1044.88,609.58L1038.12,594.42M1060.98,609.58L1054.22,594.42M1077.08,609.58L1070.32,594.42M1093.18,609.58L1086.42,594.42M1109.28,609.58L1102.52,594.42M1125.38,609.58L1118.62,594.42M1141.48,609.58L1134.72,594.42M1157.58,609.58L1150.82,594.42M1173.68,609.58L1166.92,594.42M1189.78,609.58L1183.02,594.42M1205.88,609.58L1199.12,594.42M1221.98,609.58L1215.22,594.42M1238.08,609.58L1231.32,594.42M755.08,625.68L748.32,610.52M771.18,625.68L764.42,610.52M787.28,625.68L780.52,610.52M803.38,625.68L796.62,610.52M819.48,625.68L812.72,610.52M835.58,625.68L828.82,610.52M851.68,625.68L844.92,610.52M867.78,625.68L861.02,610.52M883.88,625.68L877.12,610.52M899.98,625.68L893.22,610.52M964.38,625.68L957.62,610.52M980.48,625.68L973.72,610.52M996.58,625.68L989.82,610.52M1012.68,625.68L1005.92,610.52M1028.78,625.68L1022.02,610.52M1044.88,625.68L1038.12,610.52M1060.98,625.68L1054.22,610.52M1077.08,625.68L1070.32,610.52M1093.18,625.68L1086.42,610.52M1109.28,625.68L1102.52,610.52M1125.38,625.68L1118.62,610.52M1141.48,625.68L1134.72,610.52M1157.58,625.68L1150.82,610.52M1173.68,625.68L1166.92,610.52M1189.78,625.68L1183.02,610.52M1205.88,625.68L1199.12,610.52M1221.98,625.68L1215.22,610.52M1238.08,625.68L1231.32,610.52M755.08,641.78L748.32,626.62M771.18,641.78L764.42,626.62M787.28,641.78L780.52,626.62M803.38,641.78L796.62,626.62M819.48,641.78L812.72,626.62M835.58,641.78L828.82,626.62M851.68,641.78L844.92,626.62M867.78,641.78L861.02,626.62M883.88,641.78L877.12,626.62M899.98,641.78L893.22,626.62M948.28,641.78L941.52,626.62M964.38,641.78L957.62,626.62M980.48,641.78L973.72,626.62M996.58,641.78L989.82,626.62M1012.68,641.78L1005.92,626.62M1028.78,641.78L1022.02,626.62M1044.88,641.78L1038.12,626.62M1060.98,641.78L1054.22,626.62M1077.08,641.78L1070.32,626.62M1093.18,641.78L1086.42,626.62M1109.28,641.78L1102.52,626.62M1125.38,641.78L1118.62,626.62M1141.48,641.78L1134.72,626.62M1157.58,641.78L1150.82,626.62M1173.68,641.78L1166.92,626.62M1189.78,641.78L1183.02,626.62M1205.88,641.78L1199.12,626.62M1221.98,641.78L1215.22,626.62M1238.08,641.78L1231.32,626.62M755.08,657.88L748.32,642.72M771.18,657.88L764.42,642.72M787.28,657.88L780.52,642.72M803.38,657.88L796.62,642.72M819.48,657.88L812.72,642.72M835.58,657.88L828.82,642.72M851.68,657.88L844.92,642.72M867.78,657.88L861.02,642.72M883.88,657.88L877.12,642.72M899.98,657.88L893.22,642.72M916.08,657.88L909.32,642.72M932.18,657.88L925.42,642.72M948.28,657.88L941.52,642.72M964.38,657.88L957.62,642.72M980.48,657.88L973.72,642.72M996.58,657.88L989.82,642.72M1012.68,657.88L1005.92,642.72M1028.78,657.88L1022.02,642.72M1044.88,657.88L1038.12,642.72M1060.98,657.88L1054.22,642.72M1077.08,657.88L1070.32,642.72M1093.18,657.88L1086.42,642.72M1109.28,657.88L1102.52,642.72M1125.38,657.88L1118.62,642.72M1141.48,657.88L1134.72,642.72M1157.58,657.88L1150.82,642.72M1173.68,657.88L1166.92,642.72M1189.78,657.88L1183.02,642.72M1205.88,657.88L1199.12,642.72M1221.98,657.88L1215.22,642.72M1238.08,657.88L1231.32,642.72" stroke="#000" stroke-width="1.4" fill="none"/>
<path d="M757,532 C775,540 800,541 830,537 C840,535 848,531 853,529" stroke="#000" stroke-width="1.4" fill="none"/>
</g>
<text transform="translate(977.5,134.4) scale(1,1.13)" font-family='"Liberation Serif", serif' font-size="36" font-weight="bold">(i)</text>
<text transform="translate(977.5,361.6) scale(1,1.13)" font-family='"Liberation Serif", serif' font-size="36" font-weight="bold">(ii)</text>
<text transform="translate(977.5,487.2) scale(1,1.13)" font-family='"Liberation Serif", serif' font-size="36" font-weight="bold">(iii)</text>
<text transform="translate(977.5,599.4) scale(1,1.13)" font-family='"Liberation Serif", serif' font-size="36" font-weight="bold">(iv)</text>
<text x="1124.5" y="617.4" font-family='"Liberation Sans", sans-serif' font-size="28.5" text-anchor="start" font-weight="normal" font-style="normal" fill="#000" >500 µm</text>
<line x1="1138.4" y1="631.5" x2="1209.2" y2="631.5" stroke="#000" stroke-width="4.8" />
<rect x="1242" y="59" width="18.3" height="137" fill="url(#jet)"/>
<text x="1269.5" y="72.2" font-family='"Liberation Sans", sans-serif' font-size="33.5" text-anchor="start" font-weight="normal" font-style="normal" fill="#000" >90</text>
<text x="1269.5" y="142.4" font-family='"Liberation Sans", sans-serif' font-size="33.5" text-anchor="start" font-weight="normal" font-style="normal" fill="#000" >45</text>
<text x="1269.5" y="201.8" font-family='"Liberation Sans", sans-serif' font-size="33.5" text-anchor="start" font-weight="normal" font-style="normal" fill="#000" >0</text>
<text x="1228" y="31" font-family='"Liberation Serif", serif' font-size="42" font-style="italic">θ</text>
<text x="1259.5" y="31.5" font-family='"Liberation Sans", sans-serif' font-size="38" text-anchor="start" font-weight="normal" font-style="normal" fill="#000" >(°)</text>
<line x1="737" y1="660.5" x2="737" y2="632.1" stroke="#000" stroke-width="2.8" /><path d="M737,620.9 L744.2,634.9 L729.8,634.9 Z" fill="#000" stroke="none" stroke-width="0" />
<line x1="737" y1="660.5" x2="767.88" y2="660.5" stroke="#000" stroke-width="2.8" /><path d="M779.4,660.5 L765,667.7 L765,653.3 Z" fill="#000" stroke="none" stroke-width="0" />
<line x1="735.6" y1="660.5" x2="738.4" y2="660.5" stroke="#000" stroke-width="2.8" />
<text x="728.3" y="608.9" font-family='"Liberation Sans", sans-serif' font-size="35.5" text-anchor="start" font-weight="normal" font-style="italic" fill="#000" >y</text>
<text x="784" y="670.5" font-family='"Liberation Sans", sans-serif' font-size="36" text-anchor="start" font-weight="normal" font-style="italic" fill="#000" >x</text>
</g>
<!-- panel_c -->
<g id="panel_c">
<text x="1359.5" y="81.5" font-family='"Liberation Sans", sans-serif' font-size="46" text-anchor="start" font-weight="bold" font-style="normal" fill="#000" >c</text>
<rect x="1506.4" y="62.5" width="446.0" height="215.3" fill="none" stroke="#000" stroke-width="2.1"/>
<line x1="1580.73" y1="62.5" x2="1580.73" y2="71.5" stroke="#000" stroke-width="1.6" />
<line x1="1580.73" y1="277.8" x2="1580.73" y2="268.8" stroke="#000" stroke-width="1.6" />
<line x1="1655.07" y1="62.5" x2="1655.07" y2="71.5" stroke="#000" stroke-width="1.6" />
<line x1="1655.07" y1="277.8" x2="1655.07" y2="268.8" stroke="#000" stroke-width="1.6" />
<line x1="1729.4" y1="62.5" x2="1729.4" y2="71.5" stroke="#000" stroke-width="1.6" />
<line x1="1729.4" y1="277.8" x2="1729.4" y2="268.8" stroke="#000" stroke-width="1.6" />
<line x1="1803.73" y1="62.5" x2="1803.73" y2="71.5" stroke="#000" stroke-width="1.6" />
<line x1="1803.73" y1="277.8" x2="1803.73" y2="268.8" stroke="#000" stroke-width="1.6" />
<line x1="1878.07" y1="62.5" x2="1878.07" y2="71.5" stroke="#000" stroke-width="1.6" />
<line x1="1878.07" y1="277.8" x2="1878.07" y2="268.8" stroke="#000" stroke-width="1.6" />
<line x1="1506.4" y1="206.03" x2="1516.4" y2="206.03" stroke="#000" stroke-width="1.6" />
<line x1="1952.4" y1="206.03" x2="1942.4" y2="206.03" stroke="#000" stroke-width="1.6" />
<line x1="1506.4" y1="134.27" x2="1516.4" y2="134.27" stroke="#000" stroke-width="1.6" />
<line x1="1952.4" y1="134.27" x2="1942.4" y2="134.27" stroke="#000" stroke-width="1.6" />
<text x="1489.5" y="289.6" font-family='"Liberation Sans", sans-serif' font-size="33.5" text-anchor="end" font-weight="normal" font-style="normal" fill="#000" >0</text>
<text x="1489.5" y="217.83" font-family='"Liberation Sans", sans-serif' font-size="33.5" text-anchor="end" font-weight="normal" font-style="normal" fill="#000" >0.1</text>
<text x="1489.5" y="146.07" font-family='"Liberation Sans", sans-serif' font-size="33.5" text-anchor="end" font-weight="normal" font-style="normal" fill="#000" >0.2</text>
<text x="1489.5" y="74.3" font-family='"Liberation Sans", sans-serif' font-size="33.5" text-anchor="end" font-weight="normal" font-style="normal" fill="#000" >0.3</text>
<text x="1506.4" y="316.5" font-family='"Liberation Sans", sans-serif' font-size="33.5" text-anchor="middle" font-weight="normal" font-style="normal" fill="#000" >0</text>
<text x="1580.73" y="316.5" font-family='"Liberation Sans", sans-serif' font-size="33.5" text-anchor="middle" font-weight="normal" font-style="normal" fill="#000" >30</text>
<text x="1655.07" y="316.5" font-family='"Liberation Sans", sans-serif' font-size="33.5" text-anchor="middle" font-weight="normal" font-style="normal" fill="#000" >60</text>
<text x="1729.4" y="316.5" font-family='"Liberation Sans", sans-serif' font-size="33.5" text-anchor="middle" font-weight="normal" font-style="normal" fill="#000" >90</text>
<text x="1803.73" y="316.5" font-family='"Liberation Sans", sans-serif' font-size="33.5" text-anchor="middle" font-weight="normal" font-style="normal" fill="#000" >120</text>
<text x="1878.07" y="316.5" font-family='"Liberation Sans", sans-serif' font-size="33.5" text-anchor="middle" font-weight="normal" font-style="normal" fill="#000" >150</text>
<text x="1952.4" y="316.5" font-family='"Liberation Sans", sans-serif' font-size="33.5" text-anchor="middle" font-weight="normal" font-style="normal" fill="#000" >180</text>
<text transform="translate(1413.5,170) rotate(-90)" font-family='"Liberation Sans", sans-serif' font-size="41" font-style="italic" text-anchor="middle">PDF</text>
<text x="1700" y="374" font-family='"Liberation Serif", serif' font-size="42" font-style="italic">φ</text>
<text x="1734" y="374" font-family='"Liberation Sans", sans-serif' font-size="38" text-anchor="start" font-weight="normal" font-style="normal" fill="#000" >(°)</text>
<path d="M1506.4,277.17 L1600,276.79 L1611.42,276.41 L1622.83,272.98 L1632.34,271.65 L1643.76,267.85 L1650.42,255.86 L1653.27,259.28 L1655.18,257.38 L1658.03,264.04 L1660.88,261.19 L1663.74,202.21 L1665.64,140.37 L1667.54,141.32 L1669.82,113.74 L1671.35,145.13 L1673.25,221.23 L1675.15,251.67 L1679.91,268.8 L1685.62,274.51 L1695.13,276.79 L1951.98,277.17" fill="none" stroke="#7030a0" stroke-width="3.2" stroke-linejoin="round"/>
<path d="M1714.16,277.17 L1771.23,276.79 L1776.94,268.8 L1779.79,221.23 L1783.6,156.54 L1786.07,150.27 L1787.4,167.96 L1790.26,202.21 L1794.06,235.5 L1797.87,238.36 L1801.67,247.87 L1805.48,247.87 L1808.33,259.28 L1811.19,272.6 L1814.99,276.41 L1820.7,276.79 L1951.98,277.17" fill="none" stroke="#6fac46" stroke-width="3.2" stroke-linejoin="round"/>
<path d="M1506.4,277.17 L1660.88,276.79 L1664.69,268.8 L1666.59,202.21 L1668.49,186.99 L1670.4,194.6 L1672.68,146.08 L1676.1,148.93 L1676.48,160.35 L1678.96,192.69 L1683.71,230.75 L1687.52,264.99 L1691.32,274.51 L1697.03,276.79 L1951.98,277.17" fill="none" stroke="#6fac46" stroke-width="3.2" stroke-dasharray="8 4.5" stroke-linejoin="round"/>
<path d="M1506.4,277.17 L1756.01,276.79 L1771.23,275.46 L1776.94,270.7 L1782.65,240.26 L1787.4,183.18 L1790.26,183.18 L1792.16,135.62 L1794.06,78.54 L1795.97,107.08 L1796.92,183.18 L1798.82,240.26 L1800.72,268.8 L1804.53,276.79 L1951.98,277.17" fill="none" stroke="#7030a0" stroke-width="3.2" stroke-dasharray="8 4.5" stroke-linejoin="round"/>
<line x1="1830.6" y1="87.5" x2="1896.8" y2="87.5" stroke="#6fac46" stroke-width="3.3" />
<text x="1904" y="96.8" font-family='"Liberation Sans", sans-serif' font-size="27" text-anchor="start" font-weight="normal" font-style="normal" fill="#000" >(i)</text>
<line x1="1830.6" y1="117.9" x2="1896.8" y2="117.9" stroke="#7030a0" stroke-width="3.3" />
<text x="1904" y="127.2" font-family='"Liberation Sans", sans-serif' font-size="27" text-anchor="start" font-weight="normal" font-style="normal" fill="#000" >(ii)</text>
<line x1="1830.6" y1="148.3" x2="1896.8" y2="148.3" stroke="#6fac46" stroke-width="3.3" stroke-dasharray="8 4.5"/>
<text x="1904" y="157.6" font-family='"Liberation Sans", sans-serif' font-size="27" text-anchor="start" font-weight="normal" font-style="normal" fill="#000" >(iii)</text>
<line x1="1830.6" y1="178.7" x2="1896.8" y2="178.7" stroke="#7030a0" stroke-width="3.3" stroke-dasharray="8 4.5"/>
<text x="1904" y="188" font-family='"Liberation Sans", sans-serif' font-size="27" text-anchor="start" font-weight="normal" font-style="normal" fill="#000" >(iv)</text>
<rect x="1507.5" y="387.5" width="446.5" height="213.29999999999995" fill="none" stroke="#000" stroke-width="2.1"/>
<line x1="1619.12" y1="387.5" x2="1619.12" y2="396.5" stroke="#000" stroke-width="1.6" />
<line x1="1619.12" y1="600.8" x2="1619.12" y2="591.8" stroke="#000" stroke-width="1.6" />
<line x1="1730.75" y1="387.5" x2="1730.75" y2="396.5" stroke="#000" stroke-width="1.6" />
<line x1="1730.75" y1="600.8" x2="1730.75" y2="591.8" stroke="#000" stroke-width="1.6" />
<line x1="1842.38" y1="387.5" x2="1842.38" y2="396.5" stroke="#000" stroke-width="1.6" />
<line x1="1842.38" y1="600.8" x2="1842.38" y2="591.8" stroke="#000" stroke-width="1.6" />
<line x1="1507.5" y1="515.48" x2="1517.5" y2="515.48" stroke="#000" stroke-width="1.6" />
<line x1="1954" y1="515.48" x2="1944" y2="515.48" stroke="#000" stroke-width="1.6" />
<line x1="1507.5" y1="430.16" x2="1517.5" y2="430.16" stroke="#000" stroke-width="1.6" />
<line x1="1954" y1="430.16" x2="1944" y2="430.16" stroke="#000" stroke-width="1.6" />
<text x="1489.5" y="612.6" font-family='"Liberation Sans", sans-serif' font-size="33.5" text-anchor="end" font-weight="normal" font-style="normal" fill="#000" >0</text>
<text x="1489.5" y="527.28" font-family='"Liberation Sans", sans-serif' font-size="33.5" text-anchor="end" font-weight="normal" font-style="normal" fill="#000" >0.1</text>
<text x="1489.5" y="441.96" font-family='"Liberation Sans", sans-serif' font-size="33.5" text-anchor="end" font-weight="normal" font-style="normal" fill="#000" >0.2</text>
<text x="1507.5" y="640.5" font-family='"Liberation Sans", sans-serif' font-size="33.5" text-anchor="middle" font-weight="normal" font-style="normal" fill="#000" >0</text>
<text x="1730.75" y="640.5" font-family='"Liberation Sans", sans-serif' font-size="33.5" text-anchor="middle" font-weight="normal" font-style="normal" fill="#000" >45</text>
<text x="1954" y="640.5" font-family='"Liberation Sans", sans-serif' font-size="33.5" text-anchor="middle" font-weight="normal" font-style="normal" fill="#000" >90</text>
<text transform="translate(1413.5,493) rotate(-90)" font-family='"Liberation Sans", sans-serif' font-size="41" font-style="italic" text-anchor="middle">PDF</text>
<text x="1699" y="695" font-family='"Liberation Serif", serif' font-size="42" font-style="italic">θ</text>
<text x="1731" y="695" font-family='"Liberation Sans", sans-serif' font-size="38" text-anchor="start" font-weight="normal" font-style="normal" fill="#000" >(°)</text>
<path d="M1508.65,601.54 L1693.3,601.16 L1702.82,599.63 L1705.68,593.92 L1708.91,580.6 L1713.29,592.97 L1716.15,584.4 L1719.95,555.85 L1722.24,547.28 L1724.71,542.52 L1727.57,532.05 L1732.33,539.67 L1734.23,533 L1737.09,498.74 L1738.99,466.38 L1741.47,456.86 L1743.75,473.99 L1746.61,489.22 L1749.46,508.26 L1752.32,514.92 L1754.22,515.87 L1757.08,536.81 L1759.93,557.75 L1762.79,567.27 L1765.64,577.74 L1769.45,578.69 L1773.26,565.37 L1775.54,562.51 L1778.02,567.27 L1780.87,584.4 L1782.78,595.83 L1785.63,601.54 L1954.11,601.54" fill="none" stroke="#000" stroke-width="3.6" stroke-linejoin="round"/>
<line x1="1780" y1="398.2" x2="1945.5" y2="398.2" stroke="#000" stroke-width="3" />
<line x1="1780" y1="506" x2="1945.5" y2="506" stroke="#000" stroke-width="3" />
<line x1="1783.7" y1="398" x2="1783.7" y2="506" stroke="#000" stroke-width="1.8" />
<path d="M1783.7,398.2 L1794.31,399.55 L1799.7,400.9 L1804.18,402.24 L1808.14,403.59 L1811.76,404.94 L1815.11,406.29 L1818.24,407.63 L1821.19,408.98 L1823.97,410.33 L1826.61,411.68 L1829.12,413.02 L1831.5,414.37 L1833.77,415.72 L1835.93,417.06 L1837.98,418.41 L1839.93,419.76 L1841.79,421.11 L1843.55,422.46 L1845.22,423.8 L1846.81,425.15 L1848.3,426.5 L1849.72,427.85 L1851.04,429.19 L1852.29,430.54 L1853.46,431.89 L1854.55,433.24 L1855.56,434.58 L1856.49,435.93 L1857.34,437.28 L1858.12,438.62 L1858.82,439.97 L1859.45,441.32 L1860,442.67 L1860.48,444.02 L1860.88,445.36 L1861.21,446.71 L1861.47,448.06 L1861.65,449.41 L1861.76,450.75 L1861.8,452.1 L1861.76,453.45 L1861.65,454.8 L1861.47,456.14 L1861.21,457.49 L1860.88,458.84 L1860.48,460.19 L1860,461.53 L1859.45,462.88 L1858.82,464.23 L1858.12,465.58 L1857.34,466.92 L1856.49,468.27 L1855.56,469.62 L1854.55,470.97 L1853.46,472.31 L1852.29,473.66 L1851.04,475.01 L1849.72,476.36 L1848.3,477.7 L1846.81,479.05 L1845.22,480.4 L1843.55,481.75 L1841.79,483.09 L1839.93,484.44 L1837.98,485.79 L1835.93,487.13 L1833.77,488.48 L1831.5,489.83 L1829.12,491.18 L1826.61,492.53 L1823.97,493.87 L1821.19,495.22 L1818.24,496.57 L1815.11,497.92 L1811.76,499.26 L1808.14,500.61 L1804.18,501.96 L1799.7,503.31 L1794.31,504.65 L1783.7,506" fill="none" stroke="#000" stroke-width="1.8" />
<line x1="1783.7" y1="412.7" x2="1820.03" y2="412.7" stroke="#000" stroke-width="1.8" /><path d="M1828.03,412.7 L1818.03,416.7 L1818.03,408.7 Z" fill="#000" stroke="none" stroke-width="0" />
<line x1="1783.7" y1="424.5" x2="1837.55" y2="424.5" stroke="#000" stroke-width="1.8" /><path d="M1845.55,424.5 L1835.55,428.5 L1835.55,420.5 Z" fill="#000" stroke="none" stroke-width="0" />
<line x1="1783.7" y1="437.8" x2="1849.15" y2="437.8" stroke="#000" stroke-width="1.8" /><path d="M1857.15,437.8 L1847.15,441.8 L1847.15,433.8 Z" fill="#000" stroke="none" stroke-width="0" />
<line x1="1783.7" y1="452.1" x2="1853.3" y2="452.1" stroke="#000" stroke-width="1.8" /><path d="M1861.3,452.1 L1851.3,456.1 L1851.3,448.1 Z" fill="#000" stroke="none" stroke-width="0" />
<line x1="1783.7" y1="466.4" x2="1849.15" y2="466.4" stroke="#000" stroke-width="1.8" /><path d="M1857.15,466.4 L1847.15,470.4 L1847.15,462.4 Z" fill="#000" stroke="none" stroke-width="0" />
<line x1="1783.7" y1="479.3" x2="1838.02" y2="479.3" stroke="#000" stroke-width="1.8" /><path d="M1846.02,479.3 L1836.02,483.3 L1836.02,475.3 Z" fill="#000" stroke="none" stroke-width="0" />
<line x1="1783.7" y1="491.1" x2="1820.76" y2="491.1" stroke="#000" stroke-width="1.8" /><path d="M1828.76,491.1 L1818.76,495.1 L1818.76,487.1 Z" fill="#000" stroke="none" stroke-width="0" />
<line x1="1878.5" y1="398" x2="1878.5" y2="506" stroke="#4472c4" stroke-width="1.6" />
<line x1="1849.4" y1="398" x2="1906" y2="506" stroke="#4472c4" stroke-width="1.6" />
<line x1="1878.5" y1="405.5" x2="1861.53" y2="405.5" stroke="#4472c4" stroke-width="1.5" /><path d="M1854.33,405.5 L1863.33,401.5 L1863.33,409.5 Z" fill="#4472c4" stroke="none" stroke-width="0" />
<line x1="1878.5" y1="419.7" x2="1868.97" y2="419.7" stroke="#4472c4" stroke-width="1.5" /><path d="M1861.77,419.7 L1870.77,415.7 L1870.77,423.7 Z" fill="#4472c4" stroke="none" stroke-width="0" />
<line x1="1878.5" y1="432.1" x2="1875.47" y2="432.1" stroke="#4472c4" stroke-width="1.5" /><path d="M1868.27,432.1 L1877.27,428.1 L1877.27,436.1 Z" fill="#4472c4" stroke="none" stroke-width="0" />
<line x1="1878.5" y1="471.1" x2="1879.51" y2="471.1" stroke="#4472c4" stroke-width="1.5" /><path d="M1886.71,471.1 L1877.71,475.1 L1877.71,467.1 Z" fill="#4472c4" stroke="none" stroke-width="0" />
<line x1="1878.5" y1="485" x2="1886.79" y2="485" stroke="#4472c4" stroke-width="1.5" /><path d="M1893.99,485 L1884.99,489 L1884.99,481 Z" fill="#4472c4" stroke="none" stroke-width="0" />
<line x1="1878.5" y1="499.7" x2="1894.5" y2="499.7" stroke="#4472c4" stroke-width="1.5" /><path d="M1901.7,499.7 L1892.7,503.7 L1892.7,495.7 Z" fill="#4472c4" stroke="none" stroke-width="0" />
<g transform="translate(1915.5,416.5) rotate(-30.5)"><ellipse rx="21.5" ry="6" fill="url(#el_inset)"/><ellipse rx="21.5" ry="6" fill="url(#el_insh)"/></g>
<g transform="translate(1917,438.2) rotate(-19)"><ellipse rx="21.5" ry="6" fill="url(#el_inset)"/><ellipse rx="21.5" ry="6" fill="url(#el_insh)"/></g>
<g transform="translate(1916,461.6) rotate(19.6)"><ellipse rx="21.5" ry="6" fill="url(#el_inset)"/><ellipse rx="21.5" ry="6" fill="url(#el_insh)"/></g>
<g transform="translate(1915,481.6) rotate(28.8)"><ellipse rx="21.5" ry="6" fill="url(#el_inset)"/><ellipse rx="21.5" ry="6" fill="url(#el_insh)"/></g>
<line x1="1766.6" y1="520.6" x2="1766.6" y2="491.1" stroke="#000" stroke-width="2" /><path d="M1766.6,480.7 L1773.1,493.7 L1760.1,493.7 Z" fill="#000" stroke="none" stroke-width="0" />
<line x1="1766.6" y1="520.6" x2="1798.1" y2="520.6" stroke="#000" stroke-width="2" /><path d="M1808.5,520.6 L1795.5,527.1 L1795.5,514.1 Z" fill="#000" stroke="none" stroke-width="0" />
<text x="1759" y="473" font-family='"Liberation Sans", sans-serif' font-size="35" text-anchor="start" font-weight="normal" font-style="italic" fill="#000" >z</text>
<text x="1813" y="529.5" font-family='"Liberation Sans", sans-serif' font-size="35" text-anchor="start" font-weight="normal" font-style="italic" fill="#000" >x</text>
</g>
<!-- panel_d -->
<g id="panel_d">
<text x="1" y="736" font-family='"Liberation Sans", sans-serif' font-size="46" text-anchor="start" font-weight="bold" font-style="normal" fill="#000" >d</text>
<rect x="143.2" y="749.9" width="244.3" height="161.6" fill="none" stroke="#f79b63" stroke-width="2.2"/>
<path d="M142.9,832.3 L168.6,757.6 L416,757.6 L387.5,832.3" fill="none" stroke="#b2d59c" stroke-width="2.2" stroke-linejoin="miter"/>
<path d="M143.2,832.3 L218.2,765.8 L474,765.8 L387.5,832.3" fill="none" stroke="#abc4ee" stroke-width="2.2" stroke-linejoin="miter"/>
<path d="M387.5,757.6 L416,757.6 L387.5,832.3" fill="none" stroke="#5b9e3a" stroke-width="2.2" />
<path d="M387.5,765.8 L474,765.8 L387.5,832.3" fill="none" stroke="#4479d6" stroke-width="2.2" />
<use href="#ell_green" transform="translate(269.7,794.65) rotate(-94.92) scale(0.6996,0.7)" opacity="0.36" />
<use href="#ell_blue" transform="translate(275.6,798.45) rotate(-118.13) scale(0.7042,0.625)" opacity="0.36" />
<use href="#ell_orange" transform="translate(266.3,872.65) rotate(51.81) scale(0.9479,-0.75)" opacity="0.36" />
<g clip-path="url(#dclip1)"><use href="#ell_orange" transform="translate(266.3,872.65) rotate(51.81) scale(0.9479,-0.75)" /></g>
<use href="#ell_green" transform="translate(262.05,866.45) rotate(104.53) scale(0.6415,-0.7)" opacity="0.36" />
<g clip-path="url(#dclip1)"><use href="#ell_green" transform="translate(262.05,866.45) rotate(104.53) scale(0.6415,-0.7)" /></g>
<path d="M387.5,832.3 L361,902.3 L117.8,902.3 L142.9,832.3" fill="none" stroke="#5b9e3a" stroke-width="2.2" stroke-linejoin="miter"/>
<path d="M387.5,832.3 L322.5,887.5 L79,886 L143.2,832.3" fill="none" stroke="#4479d6" stroke-width="2.2" stroke-linejoin="miter"/>
<line x1="143.2" y1="832.3" x2="387.5" y2="832.3" stroke="#000" stroke-width="2.6" stroke-dasharray="9.5 6.5"/>
<use href="#ell_orange" transform="translate(265.3,791.25) rotate(126.5) scale(0.9516,-0.85)" />
<use href="#ell_blue" transform="translate(253.7,860.5) rotate(-27.18) scale(0.9106,-0.85)" />
<line x1="387.6" y1="749.9" x2="387.6" y2="911.5" stroke="#000" stroke-width="2.1" />
<path d="M387.6,749.9 L405.71,752.59 L414.38,755.29 L421.37,757.98 L427.42,760.67 L432.84,763.37 L437.77,766.06 L442.29,768.75 L446.48,771.45 L450.37,774.14 L453.98,776.83 L457.35,779.53 L460.49,782.22 L463.41,784.91 L466.12,787.61 L468.64,790.3 L470.98,792.99 L473.13,795.69 L475.1,798.38 L476.9,801.07 L478.54,803.77 L480.01,806.46 L481.32,809.15 L482.47,811.85 L483.47,814.54 L484.3,817.23 L484.99,819.93 L485.52,822.62 L485.9,825.31 L486.12,828.01 L486.2,830.7 L486.12,833.39 L485.9,836.09 L485.52,838.78 L484.99,841.47 L484.3,844.17 L483.47,846.86 L482.47,849.55 L481.32,852.25 L480.01,854.94 L478.54,857.63 L476.9,860.33 L475.1,863.02 L473.13,865.71 L470.98,868.41 L468.64,871.1 L466.12,873.79 L463.41,876.49 L460.49,879.18 L457.35,881.87 L453.98,884.57 L450.37,887.26 L446.48,889.95 L442.29,892.65 L437.77,895.34 L432.84,898.03 L427.42,900.73 L421.37,903.42 L414.38,906.11 L405.71,908.81 L387.6,911.5" fill="none" stroke="#000" stroke-width="2.1" />
<line x1="387.6" y1="769.8" x2="435.06" y2="769.8" stroke="#000" stroke-width="1.6" /><path d="M443.46,769.8 L432.96,774.05 L432.96,765.55 Z" fill="#000" stroke="none" stroke-width="0" />
<line x1="387.6" y1="789" x2="458.55" y2="789" stroke="#000" stroke-width="1.6" /><path d="M466.95,789 L456.45,793.25 L456.45,784.75 Z" fill="#000" stroke="none" stroke-width="0" />
<line x1="387.6" y1="809.3" x2="472.49" y2="809.3" stroke="#000" stroke-width="1.6" /><path d="M480.89,809.3 L470.39,813.55 L470.39,805.05 Z" fill="#000" stroke="none" stroke-width="0" />
<line x1="387.6" y1="830.7" x2="477.3" y2="830.7" stroke="#000" stroke-width="1.6" /><path d="M485.7,830.7 L475.2,834.95 L475.2,826.45 Z" fill="#000" stroke="none" stroke-width="0" />
<line x1="387.6" y1="851.2" x2="472.89" y2="851.2" stroke="#000" stroke-width="1.6" /><path d="M481.29,851.2 L470.79,855.45 L470.79,846.95 Z" fill="#000" stroke="none" stroke-width="0" />
<line x1="387.6" y1="871.3" x2="459.56" y2="871.3" stroke="#000" stroke-width="1.6" /><path d="M467.96,871.3 L457.46,875.55 L457.46,867.05 Z" fill="#000" stroke="none" stroke-width="0" />
<line x1="387.6" y1="890.4" x2="436.91" y2="890.4" stroke="#000" stroke-width="1.6" /><path d="M445.31,890.4 L434.81,894.65 L434.81,886.15 Z" fill="#000" stroke="none" stroke-width="0" />
<path d="M79.5,890.5 C82,905 100,921 131,915" fill="none" stroke="url(#curv1)" stroke-width="3.8"/>
<path d="M141.5,911.5 L130,908 L133,921.5 Z" fill="#f1a063" stroke="none" stroke-width="0" />
<line x1="16.6" y1="965.7" x2="16.6" y2="926.6" stroke="#000" stroke-width="2.4" /><path d="M16.6,916.2 L22.6,929.2 L10.6,929.2 Z" fill="#000" stroke="none" stroke-width="0" />
<line x1="16.6" y1="965.7" x2="59.8" y2="965.7" stroke="#000" stroke-width="2.4" /><path d="M70.2,965.7 L57.2,971.7 L57.2,959.7 Z" fill="#000" stroke="none" stroke-width="0" />
<line x1="16.6" y1="965.7" x2="47.34" y2="939.11" stroke="#000" stroke-width="2.4" /><path d="M55.2,932.3 L49.3,945.34 L41.44,936.27 Z" fill="#000" stroke="none" stroke-width="0" />
<text x="9" y="909.8" font-family='"Liberation Sans", sans-serif' font-size="35" text-anchor="start" font-weight="normal" font-style="italic" fill="#000" >z</text>
<text x="59" y="926.6" font-family='"Liberation Sans", sans-serif' font-size="35" text-anchor="start" font-weight="normal" font-style="italic" fill="#000" >y</text>
<text x="75" y="974.9" font-family='"Liberation Sans", sans-serif' font-size="35" text-anchor="start" font-weight="normal" font-style="italic" fill="#000" >x</text>
<rect x="143.2" y="1029.9" width="244.3" height="161.6" fill="none" stroke="#f79b63" stroke-width="2.2"/>
<path d="M142.9,1112.3 L168.6,1037.6 L416,1037.6 L387.5,1112.3" fill="none" stroke="#b2d59c" stroke-width="2.2" stroke-linejoin="miter"/>
<path d="M143.2,1112.3 L218.2,1045.8 L474,1045.8 L387.5,1112.3" fill="none" stroke="#abc4ee" stroke-width="2.2" stroke-linejoin="miter"/>
<path d="M387.5,1037.6 L416,1037.6 L387.5,1112.3" fill="none" stroke="#5b9e3a" stroke-width="2.2" />
<path d="M387.5,1045.8 L474,1045.8 L387.5,1112.3" fill="none" stroke="#4479d6" stroke-width="2.2" />
<use href="#ell_green" transform="translate(278.2,1080.25) rotate(-41.52) scale(0.8976,-0.8)" opacity="0.36" />
<use href="#ell_blue" transform="translate(286.25,1093.6) rotate(-23.21) scale(0.8324,-0.8)" opacity="0.36" />
<use href="#ell_orange" transform="translate(266.5,1153.25) rotate(51.4) scale(0.9456,-0.75)" opacity="0.36" />
<g clip-path="url(#dclip2)"><use href="#ell_orange" transform="translate(266.5,1153.25) rotate(51.4) scale(0.9456,-0.75)" /></g>
<use href="#ell_green" transform="translate(271.8,1143.9) rotate(39.97) scale(0.8873,-0.75)" opacity="0.36" />
<g clip-path="url(#dclip2)"><use href="#ell_green" transform="translate(271.8,1143.9) rotate(39.97) scale(0.8873,-0.75)" /></g>
<path d="M387.5,1112.3 L361,1182.3 L117.8,1182.3 L142.9,1112.3" fill="none" stroke="#5b9e3a" stroke-width="2.2" stroke-linejoin="miter"/>
<path d="M387.5,1112.3 L322.5,1167.5 L79,1166 L143.2,1112.3" fill="none" stroke="#4479d6" stroke-width="2.2" stroke-linejoin="miter"/>
<line x1="143.2" y1="1112.3" x2="387.5" y2="1112.3" stroke="#000" stroke-width="2.6" stroke-dasharray="9.5 6.5"/>
<use href="#ell_orange" transform="translate(265.4,1071.25) rotate(125.81) scale(0.9434,-0.85)" />
<use href="#ell_blue" transform="translate(277.75,1132.15) rotate(-154.62) scale(0.8468,0.85)" />
<line x1="387.6" y1="1029.9" x2="387.6" y2="1191.5" stroke="#000" stroke-width="2.1" />
<path d="M387.6,1029.9 L405.71,1032.59 L414.38,1035.29 L421.37,1037.98 L427.42,1040.67 L432.84,1043.37 L437.77,1046.06 L442.29,1048.75 L446.48,1051.45 L450.37,1054.14 L453.98,1056.83 L457.35,1059.53 L460.49,1062.22 L463.41,1064.91 L466.12,1067.61 L468.64,1070.3 L470.98,1072.99 L473.13,1075.69 L475.1,1078.38 L476.9,1081.07 L478.54,1083.77 L480.01,1086.46 L481.32,1089.15 L482.47,1091.85 L483.47,1094.54 L484.3,1097.23 L484.99,1099.93 L485.52,1102.62 L485.9,1105.31 L486.12,1108.01 L486.2,1110.7 L486.12,1113.39 L485.9,1116.09 L485.52,1118.78 L484.99,1121.47 L484.3,1124.17 L483.47,1126.86 L482.47,1129.55 L481.32,1132.25 L480.01,1134.94 L478.54,1137.63 L476.9,1140.33 L475.1,1143.02 L473.13,1145.71 L470.98,1148.41 L468.64,1151.1 L466.12,1153.79 L463.41,1156.49 L460.49,1159.18 L457.35,1161.87 L453.98,1164.57 L450.37,1167.26 L446.48,1169.95 L442.29,1172.65 L437.77,1175.34 L432.84,1178.03 L427.42,1180.73 L421.37,1183.42 L414.38,1186.11 L405.71,1188.81 L387.6,1191.5" fill="none" stroke="#000" stroke-width="2.1" />
<line x1="387.6" y1="1049.8" x2="435.06" y2="1049.8" stroke="#000" stroke-width="1.6" /><path d="M443.46,1049.8 L432.96,1054.05 L432.96,1045.55 Z" fill="#000" stroke="none" stroke-width="0" />
<line x1="387.6" y1="1069" x2="458.55" y2="1069" stroke="#000" stroke-width="1.6" /><path d="M466.95,1069 L456.45,1073.25 L456.45,1064.75 Z" fill="#000" stroke="none" stroke-width="0" />
<line x1="387.6" y1="1089.3" x2="472.49" y2="1089.3" stroke="#000" stroke-width="1.6" /><path d="M480.89,1089.3 L470.39,1093.55 L470.39,1085.05 Z" fill="#000" stroke="none" stroke-width="0" />
<line x1="387.6" y1="1110.7" x2="477.3" y2="1110.7" stroke="#000" stroke-width="1.6" /><path d="M485.7,1110.7 L475.2,1114.95 L475.2,1106.45 Z" fill="#000" stroke="none" stroke-width="0" />
<line x1="387.6" y1="1131.2" x2="472.89" y2="1131.2" stroke="#000" stroke-width="1.6" /><path d="M481.29,1131.2 L470.79,1135.45 L470.79,1126.95 Z" fill="#000" stroke="none" stroke-width="0" />
<line x1="387.6" y1="1151.3" x2="459.56" y2="1151.3" stroke="#000" stroke-width="1.6" /><path d="M467.96,1151.3 L457.46,1155.55 L457.46,1147.05 Z" fill="#000" stroke="none" stroke-width="0" />
<line x1="387.6" y1="1170.4" x2="436.91" y2="1170.4" stroke="#000" stroke-width="1.6" /><path d="M445.31,1170.4 L434.81,1174.65 L434.81,1166.15 Z" fill="#000" stroke="none" stroke-width="0" />
<path d="M79.5,1170.5 C82,1185 100,1201 131,1195" fill="none" stroke="url(#curv2)" stroke-width="3.8"/>
<path d="M141.5,1191.5 L130,1188 L133,1201.5 Z" fill="#f1a063" stroke="none" stroke-width="0" />
<line x1="16.6" y1="1245.7" x2="16.6" y2="1206.6" stroke="#000" stroke-width="2.4" /><path d="M16.6,1196.2 L22.6,1209.2 L10.6,1209.2 Z" fill="#000" stroke="none" stroke-width="0" />
<line x1="16.6" y1="1245.7" x2="59.8" y2="1245.7" stroke="#000" stroke-width="2.4" /><path d="M70.2,1245.7 L57.2,1251.7 L57.2,1239.7 Z" fill="#000" stroke="none" stroke-width="0" />
<line x1="16.6" y1="1245.7" x2="47.34" y2="1219.11" stroke="#000" stroke-width="2.4" /><path d="M55.2,1212.3 L49.3,1225.34 L41.44,1216.27 Z" fill="#000" stroke="none" stroke-width="0" />
<text x="9" y="1189.8" font-family='"Liberation Sans", sans-serif' font-size="35" text-anchor="start" font-weight="normal" font-style="italic" fill="#000" >z</text>
<text x="59" y="1206.6" font-family='"Liberation Sans", sans-serif' font-size="35" text-anchor="start" font-weight="normal" font-style="italic" fill="#000" >y</text>
<text x="75" y="1254.9" font-family='"Liberation Sans", sans-serif' font-size="35" text-anchor="start" font-weight="normal" font-style="italic" fill="#000" >x</text>
</g>
<!-- panel_e -->
<g id="panel_e">
<text x="535" y="737" font-family='"Liberation Sans", sans-serif' font-size="46" text-anchor="start" font-weight="bold" font-style="normal" fill="#000" >e</text>
<text x="663" y="735.6" font-family='"Liberation Serif", serif' font-size="47" font-style="italic">β</text>
<path d="M663.6,1250.5 L663.6,782 L652.3,782 L675.6,758.8 L698.9,782 L687.4,782 L687.4,1250.5 Z" fill="url(#beta_grad)"/>
<text x="636" y="785.6" text-anchor="end" font-size="33" font-family='"Liberation Sans", sans-serif'><tspan font-family='"Liberation Serif", serif' font-size="38">π</tspan>/2</text>
<text x="633.5" y="1020.4" text-anchor="end" font-size="33" font-family='"Liberation Sans", sans-serif'><tspan font-family='"Liberation Serif", serif' font-size="38">π</tspan>/4</text>
<text x="647" y="1254" font-family='"Liberation Sans", sans-serif' font-size="33" text-anchor="end" font-weight="normal" font-style="normal" fill="#000" >0</text>
<path d="M881.5,736.2 L1035.4,809.6 L885.2,894.3 L735.3,808.7 Z" fill="#f5f5f5" stroke="#ed9a5e" stroke-width="2.1" stroke-linejoin="miter"/><line x1="815.2" y1="769.3" x2="963.1" y2="848.4" stroke="#000" stroke-width="2.1" stroke-dasharray="12 7"/>
<path d="M881.5,914.9 L1035.4,988.3 L885.2,1073 L735.3,987.4 Z" fill="#f5f5f5" stroke="#5d8b3c" stroke-width="2.1" stroke-linejoin="miter"/><line x1="815.2" y1="948" x2="963.1" y2="1027.1" stroke="#000" stroke-width="2.1" stroke-dasharray="12 7"/>
<path d="M881.5,1093.6 L1035.4,1167 L885.2,1251.7 L735.3,1166.1 Z" fill="#f5f5f5" stroke="#5b9bd5" stroke-width="2.1" stroke-linejoin="miter"/><line x1="815.2" y1="1126.7" x2="963.1" y2="1205.8" stroke="#000" stroke-width="2.1" stroke-dasharray="12 7"/>
<path d="M1220.2,736.2 L1374.1,809.6 L1223.9,894.3 L1074,808.7 Z" fill="#f5f5f5" stroke="#ed9a5e" stroke-width="2.1" stroke-linejoin="miter"/><line x1="1153.9" y1="769.3" x2="1301.8" y2="848.4" stroke="#000" stroke-width="2.1" stroke-dasharray="12 7"/>
<path d="M1220.2,914.9 L1374.1,988.3 L1223.9,1073 L1074,987.4 Z" fill="#f5f5f5" stroke="#5d8b3c" stroke-width="2.1" stroke-linejoin="miter"/><line x1="1153.9" y1="948" x2="1301.8" y2="1027.1" stroke="#000" stroke-width="2.1" stroke-dasharray="12 7"/>
<path d="M1220.2,1093.6 L1374.1,1167 L1223.9,1251.7 L1074,1166.1 Z" fill="#f5f5f5" stroke="#5b9bd5" stroke-width="2.1" stroke-linejoin="miter"/><line x1="1153.9" y1="1126.7" x2="1301.8" y2="1205.8" stroke="#000" stroke-width="2.1" stroke-dasharray="12 7"/>
<use href="#ell_orange" transform="translate(886.8,771) rotate(161.7) scale(0.545,-0.55)" />
<use href="#ell_orange" transform="translate(911.3,786) rotate(164.7) scale(0.545,-0.55)" />
<use href="#ell_orange" transform="translate(937.6,802) rotate(164.7) scale(0.545,-0.55)" />
<use href="#ell_orange" transform="translate(835.1,821.7) rotate(-60.4) scale(0.545,-0.55)" />
<use href="#ell_orange" transform="translate(858.9,835.1) rotate(-60.4) scale(0.545,-0.55)" />
<use href="#ell_orange" transform="translate(885.3,850.2) rotate(-60.4) scale(0.545,-0.55)" />
<use href="#ell_orange" transform="translate(1224.2,770.2) rotate(161.7) scale(0.545,-0.55)" />
<use href="#ell_orange" transform="translate(1253.8,784.1) rotate(164.7) scale(0.545,-0.55)" />
<use href="#ell_orange" transform="translate(1277.3,800.9) rotate(165.1) scale(0.545,-0.55)" />
<use href="#ell_orange" transform="translate(1169.3,818.4) rotate(-60.5) scale(0.545,-0.55)" />
<use href="#ell_orange" transform="translate(1198,835.9) rotate(-60.5) scale(0.545,-0.55)" />
<use href="#ell_orange" transform="translate(1222.9,849.6) rotate(-60.5) scale(0.545,-0.55)" />
<use href="#ell_green" transform="translate(885.8,948) rotate(-43) scale(0.545,-0.55)" />
<use href="#ell_green" transform="translate(918.7,966.5) rotate(-41.7) scale(0.545,-0.55)" />
<use href="#ell_green" transform="translate(954,985.2) rotate(-41.2) scale(0.545,-0.55)" />
<use href="#ell_green" transform="translate(824.4,986.9) rotate(157.5) scale(0.545,-0.55)" />
<use href="#ell_green" transform="translate(858.4,1007.1) rotate(156) scale(0.545,-0.55)" />
<use href="#ell_green" transform="translate(894.8,1026.9) rotate(155) scale(0.545,-0.55)" />
<use href="#ell_green" transform="translate(1222.7,948.5) rotate(-18) scale(0.545,-0.55)" />
<use href="#ell_green" transform="translate(1252.5,963.2) rotate(-15.7) scale(0.545,-0.55)" />
<use href="#ell_green" transform="translate(1281,980.8) rotate(-14.5) scale(0.545,-0.55)" />
<use href="#ell_green" transform="translate(1169.8,996.7) rotate(119.5) scale(0.545,0.55)" />
<use href="#ell_green" transform="translate(1197.7,1013.1) rotate(119.5) scale(0.545,0.55)" />
<use href="#ell_green" transform="translate(1222.7,1026.8) rotate(119.5) scale(0.545,0.55)" />
<use href="#ell_blue" transform="translate(881.5,1127) rotate(99) scale(0.545,0.65)" />
<use href="#ell_blue" transform="translate(910.8,1142.8) rotate(99) scale(0.545,0.65)" />
<use href="#ell_blue" transform="translate(939.3,1160.3) rotate(99) scale(0.545,0.65)" />
<use href="#ell_blue" transform="translate(818.1,1160) rotate(3.8) scale(0.545,-0.67)" />
<use href="#ell_blue" transform="translate(854.8,1179.9) rotate(3.8) scale(0.545,-0.67)" />
<use href="#ell_blue" transform="translate(893.6,1204.9) rotate(3.8) scale(0.545,-0.67)" />
<use href="#ell_blue" transform="translate(1225.1,1129.6) rotate(161.3) scale(0.545,-0.55)" />
<use href="#ell_blue" transform="translate(1253.3,1143.2) rotate(164.1) scale(0.545,-0.55)" />
<use href="#ell_blue" transform="translate(1277.3,1159.5) rotate(164.5) scale(0.545,-0.55)" />
<use href="#ell_blue" transform="translate(1172.2,1176.2) rotate(-60.3) scale(0.545,-0.55)" />
<use href="#ell_blue" transform="translate(1199.6,1191.6) rotate(-60.3) scale(0.545,-0.55)" />
<use href="#ell_blue" transform="translate(1227.6,1205.2) rotate(-60.3) scale(0.545,-0.55)" />
</g>
<!-- panel_f -->
<g id="panel_f">
<text x="1395" y="736.5" font-family='"Liberation Sans", sans-serif' font-size="46" text-anchor="start" font-weight="bold" font-style="normal" fill="#000" >f</text>
<line x1="1541.2" y1="1188" x2="1541.2" y2="884" stroke="#000" stroke-width="1.9" />
<path d="M1541.2,872 L1548.45,886 L1533.95,886 Z" fill="#000" stroke="none" stroke-width="0" />
<line x1="1541.2" y1="981.3" x2="1906" y2="981.3" stroke="#000" stroke-width="1.9" />
<path d="M1918.5,981.3 L1904.5,988.55 L1904.5,974.05 Z" fill="#000" stroke="none" stroke-width="0" />
<line x1="1541.2" y1="912.45" x2="1552.2" y2="912.45" stroke="#000" stroke-width="1.7" />
<line x1="1541.2" y1="1050.15" x2="1552.2" y2="1050.15" stroke="#000" stroke-width="1.7" />
<line x1="1541.2" y1="1119" x2="1552.2" y2="1119" stroke="#000" stroke-width="1.7" />
<line x1="1541.2" y1="1187.85" x2="1552.2" y2="1187.85" stroke="#000" stroke-width="1.7" />
<line x1="1626.38" y1="981.3" x2="1626.38" y2="970.3" stroke="#000" stroke-width="1.7" />
<line x1="1711.57" y1="981.3" x2="1711.57" y2="970.3" stroke="#000" stroke-width="1.7" />
<line x1="1796.76" y1="981.3" x2="1796.76" y2="970.3" stroke="#000" stroke-width="1.7" />
<line x1="1881.94" y1="981.3" x2="1881.94" y2="970.3" stroke="#000" stroke-width="1.7" />
<text x="1519.5" y="924.05" font-family='"Liberation Sans", sans-serif' font-size="33.5" text-anchor="end" font-weight="normal" font-style="normal" fill="#000" >0.5</text>
<text x="1519.5" y="992.9" font-family='"Liberation Sans", sans-serif' font-size="33.5" text-anchor="end" font-weight="normal" font-style="normal" fill="#000" >0</text>
<text x="1519.5" y="1061.75" font-family='"Liberation Sans", sans-serif' font-size="33.5" text-anchor="end" font-weight="normal" font-style="normal" fill="#000" >–0.5</text>
<text x="1519.5" y="1130.6" font-family='"Liberation Sans", sans-serif' font-size="33.5" text-anchor="end" font-weight="normal" font-style="normal" fill="#000" >–1</text>
<text x="1519.5" y="1199.45" font-family='"Liberation Sans", sans-serif' font-size="33.5" text-anchor="end" font-weight="normal" font-style="normal" fill="#000" >–1.5</text>
<text x="1540.4" y="1020.3" font-family='"Liberation Sans", sans-serif' font-size="33.5" text-anchor="middle" font-weight="normal" font-style="normal" fill="#000" >0</text>
<text x="1710.37" y="1020.3" font-family='"Liberation Sans", sans-serif' font-size="33.5" text-anchor="middle" font-weight="normal" font-style="normal" fill="#000" >45</text>
<text x="1880.74" y="1020.3" font-family='"Liberation Sans", sans-serif' font-size="33.5" text-anchor="middle" font-weight="normal" font-style="normal" fill="#000" >90</text>
<path d="M1541.2,1176.83 L1543.09,1176.81 L1544.99,1176.75 L1546.88,1176.65 L1548.77,1176.5 L1550.66,1176.31 L1552.56,1176.08 L1554.45,1175.81 L1556.34,1175.49 L1558.24,1175.14 L1560.13,1174.74 L1562.02,1174.3 L1563.92,1173.82 L1565.81,1173.3 L1567.7,1172.74 L1569.6,1172.14 L1571.49,1171.5 L1573.38,1170.82 L1575.27,1170.09 L1577.17,1169.33 L1579.06,1168.53 L1580.95,1167.69 L1582.85,1166.81 L1584.74,1165.89 L1586.63,1164.93 L1588.53,1163.93 L1590.42,1162.9 L1592.31,1161.83 L1594.2,1160.72 L1596.1,1159.57 L1597.99,1158.39 L1599.88,1157.17 L1601.78,1155.91 L1603.67,1154.62 L1605.56,1153.29 L1607.45,1151.93 L1609.35,1150.54 L1611.24,1149.11 L1613.13,1147.64 L1615.03,1146.15 L1616.92,1144.62 L1618.81,1143.06 L1620.71,1141.47 L1622.6,1139.84 L1624.49,1138.19 L1626.38,1136.5 L1628.28,1134.79 L1630.17,1133.05 L1632.06,1131.27 L1633.96,1129.47 L1635.85,1127.65 L1637.74,1125.79 L1639.64,1123.91 L1641.53,1122 L1643.42,1120.07 L1645.32,1118.12 L1647.21,1116.13 L1649.1,1114.13 L1650.99,1112.1 L1652.89,1110.05 L1654.78,1107.98 L1656.67,1105.89 L1658.57,1103.78 L1660.46,1101.65 L1662.35,1099.5 L1664.25,1097.33 L1666.14,1095.14 L1668.03,1092.94 L1669.92,1090.72 L1671.82,1088.48 L1673.71,1086.23 L1675.6,1083.96 L1677.5,1081.69 L1679.39,1079.39 L1681.28,1077.09 L1683.17,1074.77 L1685.07,1072.45 L1686.96,1070.11 L1688.85,1067.76 L1690.75,1065.41 L1692.64,1063.05 L1694.53,1060.68 L1696.43,1058.3 L1698.32,1055.92 L1700.21,1053.53 L1702.11,1051.14 L1704,1048.74 L1705.89,1046.34 L1707.78,1043.94 L1709.68,1041.54 L1711.57,1039.13 L1713.46,1036.73 L1715.36,1034.33 L1717.25,1031.93 L1719.14,1029.53 L1721.04,1027.13 L1722.93,1024.74 L1724.82,1022.35 L1726.71,1019.97 L1728.61,1017.59 L1730.5,1015.22 L1732.39,1012.86 L1734.29,1010.5 L1736.18,1008.16 L1738.07,1005.82 L1739.97,1003.49 L1741.86,1001.18 L1743.75,998.87 L1745.64,996.58 L1747.54,994.3 L1749.43,992.04 L1751.32,989.79 L1753.22,987.55 L1755.11,985.33 L1757,983.13 L1758.89,980.94 L1760.79,978.77 L1762.68,976.62 L1764.57,974.49 L1766.47,972.38 L1768.36,970.28 L1770.25,968.21 L1772.15,966.16 L1774.04,964.14 L1775.93,962.13 L1777.83,960.15 L1779.72,958.2 L1781.61,956.26 L1783.5,954.36 L1785.4,952.48 L1787.29,950.62 L1789.18,948.79 L1791.08,946.99 L1792.97,945.22 L1794.86,943.48 L1796.76,941.77 L1798.65,940.08 L1800.54,938.43 L1802.43,936.8 L1804.33,935.21 L1806.22,933.65 L1808.11,932.12 L1810.01,930.62 L1811.9,929.16 L1813.79,927.73 L1815.68,926.34 L1817.58,924.98 L1819.47,923.65 L1821.36,922.36 L1823.26,921.1 L1825.15,919.88 L1827.04,918.7 L1828.94,917.55 L1830.83,916.44 L1832.72,915.37 L1834.62,914.34 L1836.51,913.34 L1838.4,912.38 L1840.29,911.46 L1842.19,910.58 L1844.08,909.74 L1845.97,908.94 L1847.87,908.17 L1849.76,907.45 L1851.65,906.77 L1853.55,906.13 L1855.44,905.52 L1857.33,904.96 L1859.22,904.44 L1861.12,903.96 L1863.01,903.53 L1864.9,903.13 L1866.8,902.77 L1868.69,902.46 L1870.58,902.19 L1872.47,901.96 L1874.37,901.77 L1876.26,901.62 L1878.15,901.52 L1880.05,901.45 L1881.94,901.43" fill="none" stroke="#ff0000" stroke-width="4.6" stroke-linecap="round" stroke-linejoin="round"/>
<path d="M1541.2,901.43 L1543.09,901.45 L1544.99,901.52 L1546.88,901.62 L1548.77,901.77 L1550.66,901.96 L1552.56,902.19 L1554.45,902.46 L1556.34,902.77 L1558.24,903.13 L1560.13,903.53 L1562.02,903.96 L1563.92,904.44 L1565.81,904.96 L1567.7,905.52 L1569.6,906.13 L1571.49,906.77 L1573.38,907.45 L1575.27,908.17 L1577.17,908.94 L1579.06,909.74 L1580.95,910.58 L1582.85,911.46 L1584.74,912.38 L1586.63,913.34 L1588.53,914.34 L1590.42,915.37 L1592.31,916.44 L1594.2,917.55 L1596.1,918.7 L1597.99,919.88 L1599.88,921.1 L1601.78,922.36 L1603.67,923.65 L1605.56,924.98 L1607.45,926.34 L1609.35,927.73 L1611.24,929.16 L1613.13,930.62 L1615.03,932.12 L1616.92,933.65 L1618.81,935.21 L1620.71,936.8 L1622.6,938.43 L1624.49,940.08 L1626.38,941.77 L1628.28,943.48 L1630.17,945.22 L1632.06,946.99 L1633.96,948.79 L1635.85,950.62 L1637.74,952.48 L1639.64,954.36 L1641.53,956.26 L1643.42,958.2 L1645.32,960.15 L1647.21,962.13 L1649.1,964.14 L1650.99,966.16 L1652.89,968.21 L1654.78,970.28 L1656.67,972.38 L1658.57,974.49 L1660.46,976.62 L1662.35,978.77 L1664.25,980.94 L1666.14,983.13 L1668.03,985.33 L1669.92,987.55 L1671.82,989.79 L1673.71,992.04 L1675.6,994.3 L1677.5,996.58 L1679.39,998.87 L1681.28,1001.18 L1683.17,1003.49 L1685.07,1005.82 L1686.96,1008.16 L1688.85,1010.5 L1690.75,1012.86 L1692.64,1015.22 L1694.53,1017.59 L1696.43,1019.97 L1698.32,1022.35 L1700.21,1024.74 L1702.11,1027.13 L1704,1029.53 L1705.89,1031.93 L1707.78,1034.33 L1709.68,1036.73 L1711.57,1039.13 L1713.46,1041.54 L1715.36,1043.94 L1717.25,1046.34 L1719.14,1048.74 L1721.04,1051.14 L1722.93,1053.53 L1724.82,1055.92 L1726.71,1058.3 L1728.61,1060.68 L1730.5,1063.05 L1732.39,1065.41 L1734.29,1067.76 L1736.18,1070.11 L1738.07,1072.45 L1739.97,1074.77 L1741.86,1077.09 L1743.75,1079.39 L1745.64,1081.69 L1747.54,1083.96 L1749.43,1086.23 L1751.32,1088.48 L1753.22,1090.72 L1755.11,1092.94 L1757,1095.14 L1758.89,1097.33 L1760.79,1099.5 L1762.68,1101.65 L1764.57,1103.78 L1766.47,1105.89 L1768.36,1107.98 L1770.25,1110.05 L1772.15,1112.1 L1774.04,1114.13 L1775.93,1116.13 L1777.83,1118.12 L1779.72,1120.07 L1781.61,1122 L1783.5,1123.91 L1785.4,1125.79 L1787.29,1127.65 L1789.18,1129.47 L1791.08,1131.27 L1792.97,1133.05 L1794.86,1134.79 L1796.76,1136.5 L1798.65,1138.19 L1800.54,1139.84 L1802.43,1141.47 L1804.33,1143.06 L1806.22,1144.62 L1808.11,1146.15 L1810.01,1147.64 L1811.9,1149.11 L1813.79,1150.54 L1815.68,1151.93 L1817.58,1153.29 L1819.47,1154.62 L1821.36,1155.91 L1823.26,1157.17 L1825.15,1158.39 L1827.04,1159.57 L1828.94,1160.72 L1830.83,1161.83 L1832.72,1162.9 L1834.62,1163.93 L1836.51,1164.93 L1838.4,1165.89 L1840.29,1166.81 L1842.19,1167.69 L1844.08,1168.53 L1845.97,1169.33 L1847.87,1170.09 L1849.76,1170.82 L1851.65,1171.5 L1853.55,1172.14 L1855.44,1172.74 L1857.33,1173.3 L1859.22,1173.82 L1861.12,1174.3 L1863.01,1174.74 L1864.9,1175.14 L1866.8,1175.49 L1868.69,1175.81 L1870.58,1176.08 L1872.47,1176.31 L1874.37,1176.5 L1876.26,1176.65 L1878.15,1176.75 L1880.05,1176.81 L1881.94,1176.83" fill="none" stroke="#0000ff" stroke-width="4.6" stroke-linecap="round" stroke-linejoin="round"/>
<path d="M1575.58,917.58 L1593.07,916.88 L1585.32,901.19" fill="none" stroke="#0000ff" stroke-width="4" stroke-linecap="round" stroke-linejoin="miter"/>
<path d="M1619.08,947.5 L1636.23,950.99 L1632.44,933.91" fill="none" stroke="#0000ff" stroke-width="4" stroke-linecap="round" stroke-linejoin="miter"/>
<path d="M1688.93,995.35 L1672.2,990.24 L1674.34,1007.6" fill="none" stroke="#0000ff" stroke-width="4" stroke-linecap="round" stroke-linejoin="miter"/>
<path d="M1780.7,1107.53 L1763.82,1102.93 L1766.48,1120.23" fill="none" stroke="#0000ff" stroke-width="4" stroke-linecap="round" stroke-linejoin="miter"/>
<path d="M1840.76,1157.1 L1823.26,1157.17 L1830.43,1173.13" fill="none" stroke="#0000ff" stroke-width="4" stroke-linecap="round" stroke-linejoin="miter"/>
<path d="M1840.82,920.51 L1851.65,906.77 L1834.69,902.46" fill="none" stroke="#ff0000" stroke-width="4" stroke-linecap="round" stroke-linejoin="miter"/>
<path d="M1793.87,956.92 L1798.65,940.08 L1781.32,942.56" fill="none" stroke="#ff0000" stroke-width="4" stroke-linecap="round" stroke-linejoin="miter"/>
<path d="M1739.17,989.35 L1737.31,1006.75 L1753.97,1001.37" fill="none" stroke="#ff0000" stroke-width="4" stroke-linecap="round" stroke-linejoin="miter"/>
<path d="M1654.67,1094.03 L1651.75,1111.29 L1668.7,1106.94" fill="none" stroke="#ff0000" stroke-width="4" stroke-linecap="round" stroke-linejoin="miter"/>
<text x="1931" y="992" font-family='"Liberation Serif", serif' font-size="42" font-style="italic">θ</text>
<text x="1960" y="992" font-family='"Liberation Sans", sans-serif' font-size="36" text-anchor="start" font-weight="normal" font-style="normal" fill="#000" >(°)</text>
<text x="1459.5" y="817.6" font-family='"Liberation Serif", serif' font-size="41" font-style="italic">k</text>
<line x1="1462.5" y1="785" x2="1479" y2="785" stroke="#000" stroke-width="2" />
<text x="1518" y="787.5" font-family='"Liberation Serif", serif' font-size="40" font-style="italic" letter-spacing="1">dθ</text>
<line x1="1511" y1="805.4" x2="1569.6" y2="805.4" stroke="#000" stroke-width="2.2" />
<text x="1513" y="844.2" font-family='"Liberation Serif", serif' font-size="40" font-style="italic" letter-spacing="2.5">dt<tspan font-size="27" dy="-12">*</tspan></text>
<text x="1593.5" y="863" font-family='"Liberation Serif", serif' font-size="31" font-style="italic" letter-spacing="3.6">surface</text>
<text transform="translate(1477.3,841.4) scale(1.02,1)" font-family='"DejaVu Sans Light", "DejaVu Sans", sans-serif' font-weight="200" font-size="113" stroke="#fff" stroke-width="1.3">(</text>
<text transform="translate(1557.9,841.4) scale(1.02,1)" font-family='"DejaVu Sans Light", "DejaVu Sans", sans-serif' font-weight="200" font-size="113" stroke="#fff" stroke-width="1.3">)</text>
</g>
</svg>
</body></html>
